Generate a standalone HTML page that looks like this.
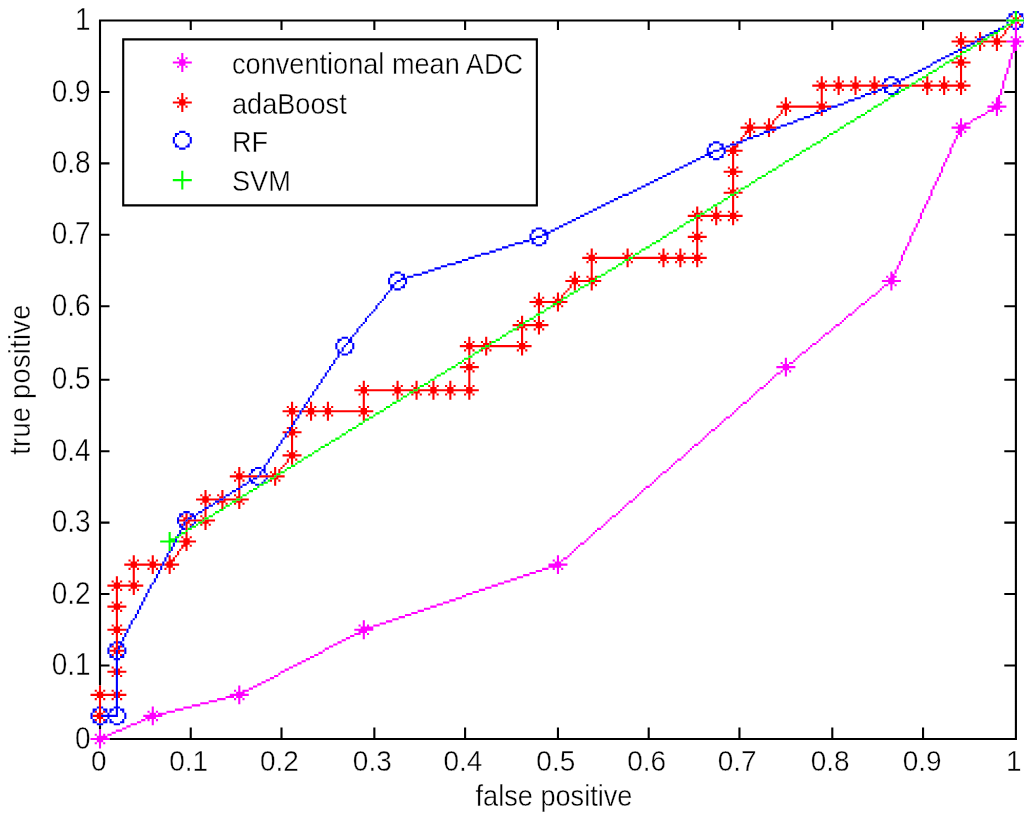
<!DOCTYPE html>
<html><head><meta charset="utf-8"><title>ROC</title>
<style>html,body{margin:0;padding:0;background:#fff}svg{display:block}</style></head>
<body><svg width="1024" height="823" viewBox="0 0 1024 823">
<rect width="1024" height="823" fill="#fff"/>
<g transform="translate(98.95 19.45) scale(2.11037 2.10088)">
<rect x="11" y="9" width="197" height="80" fill="#fff"/>
<path fill="#000" d="M0 261h1v1h-1zM434 261h1v1h-1zM0 88h1v1h-1zM11 88h197v1h-197zM434 88h1v1h-1zM43 339h1v1h-1zM86 339h1v1h-1zM130 339h1v1h-1zM173 339h1v1h-1zM217 339h1v1h-1zM260 339h1v1h-1zM303 339h1v1h-1zM347 339h1v1h-1zM390 339h1v1h-1zM434 339h1v1h-1zM0 0h430v1h-430zM0 337h1v1h-1zM43 337h1v1h-1zM86 337h1v1h-1zM130 337h1v1h-1zM173 337h1v1h-1zM217 337h1v1h-1zM260 337h1v1h-1zM303 337h1v1h-1zM347 337h1v1h-1zM390 337h1v1h-1zM434 337h1v1h-1zM0 5h1v1h-1zM5 342h430v1h-430zM0 117h1v1h-1zM434 117h1v1h-1zM0 14h1v1h-1zM11 14h1v1h-1zM207 14h1v1h-1zM0 270h1v1h-1zM434 270h1v1h-1zM43 341h1v1h-1zM86 341h1v1h-1zM130 341h1v1h-1zM173 341h1v1h-1zM217 341h1v1h-1zM260 341h1v1h-1zM303 341h1v1h-1zM347 341h1v1h-1zM390 341h1v1h-1zM434 341h1v1h-1zM0 9h1v1h-1zM11 9h197v1h-197zM0 74h1v1h-1zM11 74h1v1h-1zM207 74h1v1h-1zM434 74h1v1h-1zM0 126h1v1h-1zM434 126h1v1h-1zM0 238h1v1h-1zM434 238h1v1h-1zM0 273h5v1h-5zM429 273h6v1h-6zM0 94h1v1h-1zM434 94h1v1h-1zM0 171h5v1h-5zM429 171h6v1h-6zM0 136h5v1h-5zM429 136h6v1h-6zM0 247h1v1h-1zM434 247h1v1h-1zM0 51h1v1h-1zM11 51h1v1h-1zM207 51h1v1h-1zM434 51h1v1h-1zM0 103h1v1h-1zM434 103h1v1h-1zM0 215h1v1h-1zM434 215h1v1h-1zM0 71h1v1h-1zM11 71h1v1h-1zM207 71h1v1h-1zM434 71h1v1h-1zM0 224h1v1h-1zM434 224h1v1h-1zM0 336h1v1h-1zM434 336h1v1h-1zM0 107h1v1h-1zM434 107h1v1h-1zM43 338h1v1h-1zM86 338h1v1h-1zM130 338h1v1h-1zM173 338h1v1h-1zM217 338h1v1h-1zM260 338h1v1h-1zM303 338h1v1h-1zM347 338h1v1h-1zM390 338h1v1h-1zM434 338h1v1h-1zM0 260h1v1h-1zM434 260h1v1h-1zM0 64h1v1h-1zM11 64h1v1h-1zM207 64h1v1h-1zM434 64h1v1h-1zM0 192h1v1h-1zM434 192h1v1h-1zM0 116h1v1h-1zM434 116h1v1h-1zM0 228h1v1h-1zM434 228h1v1h-1zM0 84h1v1h-1zM11 84h1v1h-1zM207 84h1v1h-1zM434 84h1v1h-1zM0 237h1v1h-1zM434 237h1v1h-1zM0 41h1v1h-1zM11 41h1v1h-1zM207 41h1v1h-1zM434 41h1v1h-1zM0 93h1v1h-1zM434 93h1v1h-1zM0 205h5v1h-5zM429 205h6v1h-6zM0 61h1v1h-1zM11 61h1v1h-1zM207 61h1v1h-1zM434 61h1v1h-1zM0 214h1v1h-1zM434 214h1v1h-1zM434 326h1v1h-1zM0 18h1v1h-1zM11 18h1v1h-1zM207 18h1v1h-1zM434 18h1v1h-1zM0 70h1v1h-1zM11 70h1v1h-1zM207 70h1v1h-1zM434 70h1v1h-1zM0 54h1v1h-1zM11 54h1v1h-1zM207 54h1v1h-1zM434 54h1v1h-1zM0 79h1v1h-1zM11 79h1v1h-1zM207 79h1v1h-1zM434 79h1v1h-1zM0 182h1v1h-1zM434 182h1v1h-1zM0 106h1v1h-1zM434 106h1v1h-1zM0 34h5v1h-5zM11 34h1v1h-1zM207 34h1v1h-1zM429 34h6v1h-6zM0 38h1v1h-1zM11 38h1v1h-1zM207 38h1v1h-1zM434 38h1v1h-1zM0 191h1v1h-1zM434 191h1v1h-1zM0 303h1v1h-1zM434 303h1v1h-1zM0 1h1v1h-1zM43 1h1v1h-1zM86 1h1v1h-1zM130 1h1v1h-1zM173 1h1v1h-1zM217 1h1v1h-1zM260 1h1v1h-1zM303 1h1v1h-1zM347 1h1v1h-1zM390 1h1v1h-1zM0 227h1v1h-1zM434 227h1v1h-1zM0 56h1v1h-1zM11 56h1v1h-1zM207 56h1v1h-1zM434 56h1v1h-1zM0 31h1v1h-1zM11 31h1v1h-1zM207 31h1v1h-1zM434 31h1v1h-1zM0 3h1v1h-1zM43 3h1v1h-1zM86 3h1v1h-1zM130 3h1v1h-1zM173 3h1v1h-1zM217 3h1v1h-1zM260 3h1v1h-1zM303 3h1v1h-1zM347 3h1v1h-1zM390 3h1v1h-1zM0 83h1v1h-1zM11 83h1v1h-1zM207 83h1v1h-1zM434 83h1v1h-1zM0 195h1v1h-1zM434 195h1v1h-1zM0 204h1v1h-1zM434 204h1v1h-1zM0 316h1v1h-1zM434 316h1v1h-1zM0 60h1v1h-1zM11 60h1v1h-1zM207 60h1v1h-1zM434 60h1v1h-1zM0 69h1v1h-1zM11 69h1v1h-1zM207 69h1v1h-1zM434 69h1v1h-1zM0 172h1v1h-1zM434 172h1v1h-1zM0 28h1v1h-1zM11 28h1v1h-1zM207 28h1v1h-1zM434 28h1v1h-1zM0 181h1v1h-1zM434 181h1v1h-1zM0 293h1v1h-1zM434 293h1v1h-1zM0 37h1v1h-1zM11 37h1v1h-1zM207 37h1v1h-1zM434 37h1v1h-1zM0 21h1v1h-1zM11 21h1v1h-1zM207 21h1v1h-1zM434 21h1v1h-1zM0 46h1v1h-1zM11 46h1v1h-1zM207 46h1v1h-1zM434 46h1v1h-1zM0 149h1v1h-1zM434 149h1v1h-1zM0 302h1v1h-1zM434 302h1v1h-1zM0 73h1v1h-1zM11 73h1v1h-1zM207 73h1v1h-1zM434 73h1v1h-1zM0 185h1v1h-1zM434 185h1v1h-1zM0 194h1v1h-1zM434 194h1v1h-1zM0 306h1v1h-1zM434 306h1v1h-1zM0 4h1v1h-1zM43 4h1v1h-1zM86 4h1v1h-1zM130 4h1v1h-1zM173 4h1v1h-1zM217 4h1v1h-1zM260 4h1v1h-1zM303 4h1v1h-1zM347 4h1v1h-1zM390 4h1v1h-1zM0 50h1v1h-1zM11 50h1v1h-1zM207 50h1v1h-1zM434 50h1v1h-1zM0 59h1v1h-1zM11 59h1v1h-1zM207 59h1v1h-1zM434 59h1v1h-1zM0 162h1v1h-1zM434 162h1v1h-1zM0 239h5v1h-5zM429 239h6v1h-6zM0 315h1v1h-1zM434 315h1v1h-1zM0 283h1v1h-1zM434 283h1v1h-1zM0 27h1v1h-1zM11 27h1v1h-1zM207 27h1v1h-1zM434 27h1v1h-1zM0 36h1v1h-1zM11 36h1v1h-1zM207 36h1v1h-1zM434 36h1v1h-1zM0 139h1v1h-1zM434 139h1v1h-1zM0 292h1v1h-1zM434 292h1v1h-1zM0 148h1v1h-1zM434 148h1v1h-1zM0 13h1v1h-1zM11 13h1v1h-1zM207 13h1v1h-1zM0 269h1v1h-1zM434 269h1v1h-1zM43 340h1v1h-1zM86 340h1v1h-1zM130 340h1v1h-1zM173 340h1v1h-1zM217 340h1v1h-1zM260 340h1v1h-1zM303 340h1v1h-1zM347 340h1v1h-1zM390 340h1v1h-1zM434 340h1v1h-1zM0 40h1v1h-1zM11 40h1v1h-1zM207 40h1v1h-1zM434 40h1v1h-1zM0 49h1v1h-1zM11 49h1v1h-1zM207 49h1v1h-1zM434 49h1v1h-1zM0 152h1v1h-1zM434 152h1v1h-1zM0 305h1v1h-1zM434 305h1v1h-1zM0 161h1v1h-1zM434 161h1v1h-1zM0 17h1v1h-1zM11 17h1v1h-1zM207 17h1v1h-1zM434 17h1v1h-1zM0 26h1v1h-1zM11 26h1v1h-1zM207 26h1v1h-1zM434 26h1v1h-1zM0 129h1v1h-1zM434 129h1v1h-1zM0 282h1v1h-1zM434 282h1v1h-1zM0 86h1v1h-1zM11 86h1v1h-1zM207 86h1v1h-1zM434 86h1v1h-1zM0 138h1v1h-1zM434 138h1v1h-1zM0 250h1v1h-1zM434 250h1v1h-1zM0 102h5v1h-5zM429 102h6v1h-6zM0 259h1v1h-1zM434 259h1v1h-1zM0 63h1v1h-1zM11 63h1v1h-1zM207 63h1v1h-1zM434 63h1v1h-1zM0 115h1v1h-1zM434 115h1v1h-1zM0 151h1v1h-1zM434 151h1v1h-1zM0 236h1v1h-1zM434 236h1v1h-1zM0 7h1v1h-1zM0 16h1v1h-1zM11 16h1v1h-1zM207 16h1v1h-1zM434 16h1v1h-1zM0 119h1v1h-1zM434 119h1v1h-1zM0 272h1v1h-1zM434 272h1v1h-1zM0 76h1v1h-1zM11 76h1v1h-1zM207 76h1v1h-1zM434 76h1v1h-1zM0 128h1v1h-1zM434 128h1v1h-1zM0 240h1v1h-1zM434 240h1v1h-1zM0 96h1v1h-1zM434 96h1v1h-1zM0 249h1v1h-1zM434 249h1v1h-1zM0 53h1v1h-1zM11 53h1v1h-1zM207 53h1v1h-1zM434 53h1v1h-1zM0 105h1v1h-1zM434 105h1v1h-1zM0 217h1v1h-1zM434 217h1v1h-1zM0 226h1v1h-1zM434 226h1v1h-1zM0 30h1v1h-1zM11 30h1v1h-1zM207 30h1v1h-1zM434 30h1v1h-1zM0 2h1v1h-1zM43 2h1v1h-1zM86 2h1v1h-1zM130 2h1v1h-1zM173 2h1v1h-1zM217 2h1v1h-1zM260 2h1v1h-1zM303 2h1v1h-1zM347 2h1v1h-1zM390 2h1v1h-1zM0 82h1v1h-1zM11 82h1v1h-1zM207 82h1v1h-1zM434 82h1v1h-1zM0 66h1v1h-1zM11 66h1v1h-1zM207 66h1v1h-1zM434 66h1v1h-1zM0 118h1v1h-1zM434 118h1v1h-1zM0 230h1v1h-1zM434 230h1v1h-1zM0 307h5v1h-5zM429 307h6v1h-6zM0 43h1v1h-1zM11 43h1v1h-1zM207 43h1v1h-1zM434 43h1v1h-1zM0 95h1v1h-1zM434 95h1v1h-1zM0 207h1v1h-1zM434 207h1v1h-1zM0 216h1v1h-1zM434 216h1v1h-1zM434 328h1v1h-1zM0 20h1v1h-1zM11 20h1v1h-1zM207 20h1v1h-1zM434 20h1v1h-1zM0 72h1v1h-1zM11 72h1v1h-1zM207 72h1v1h-1zM434 72h1v1h-1zM0 81h1v1h-1zM11 81h1v1h-1zM207 81h1v1h-1zM434 81h1v1h-1zM0 184h1v1h-1zM434 184h1v1h-1zM0 193h1v1h-1zM434 193h1v1h-1zM0 33h1v1h-1zM11 33h1v1h-1zM207 33h1v1h-1zM434 33h1v1h-1zM0 58h1v1h-1zM11 58h1v1h-1zM207 58h1v1h-1zM434 58h1v1h-1zM0 314h1v1h-1zM434 314h1v1h-1zM0 85h1v1h-1zM11 85h1v1h-1zM207 85h1v1h-1zM434 85h1v1h-1zM0 197h1v1h-1zM434 197h1v1h-1zM0 206h1v1h-1zM434 206h1v1h-1zM434 318h1v1h-1zM0 10h1v1h-1zM11 10h1v1h-1zM207 10h1v1h-1zM0 62h1v1h-1zM11 62h1v1h-1zM207 62h1v1h-1zM434 62h1v1h-1zM0 174h1v1h-1zM434 174h1v1h-1zM0 183h1v1h-1zM434 183h1v1h-1zM0 295h1v1h-1zM434 295h1v1h-1zM0 39h1v1h-1zM11 39h1v1h-1zM207 39h1v1h-1zM434 39h1v1h-1zM0 48h1v1h-1zM11 48h1v1h-1zM207 48h1v1h-1zM434 48h1v1h-1zM0 304h1v1h-1zM434 304h1v1h-1zM0 160h1v1h-1zM434 160h1v1h-1zM0 196h1v1h-1zM434 196h1v1h-1zM0 25h1v1h-1zM11 25h1v1h-1zM207 25h1v1h-1zM434 25h1v1h-1zM0 281h1v1h-1zM434 281h1v1h-1zM0 52h1v1h-1zM11 52h1v1h-1zM207 52h1v1h-1zM434 52h1v1h-1zM0 164h1v1h-1zM434 164h1v1h-1zM0 173h1v1h-1zM434 173h1v1h-1zM0 285h1v1h-1zM434 285h1v1h-1zM0 29h1v1h-1zM11 29h1v1h-1zM207 29h1v1h-1zM434 29h1v1h-1zM0 141h1v1h-1zM434 141h1v1h-1zM0 294h1v1h-1zM434 294h1v1h-1zM0 150h1v1h-1zM434 150h1v1h-1zM0 262h1v1h-1zM434 262h1v1h-1zM0 6h1v1h-1zM0 15h1v1h-1zM11 15h1v1h-1zM207 15h1v1h-1zM434 15h1v1h-1zM0 271h1v1h-1zM434 271h1v1h-1zM0 42h1v1h-1zM11 42h1v1h-1zM207 42h1v1h-1zM434 42h1v1h-1zM0 75h1v1h-1zM11 75h1v1h-1zM207 75h1v1h-1zM434 75h1v1h-1zM0 127h1v1h-1zM434 127h1v1h-1zM0 163h1v1h-1zM434 163h1v1h-1zM0 275h1v1h-1zM434 275h1v1h-1zM0 19h1v1h-1zM11 19h1v1h-1zM207 19h1v1h-1zM434 19h1v1h-1zM0 131h1v1h-1zM434 131h1v1h-1zM0 284h1v1h-1zM434 284h1v1h-1zM0 140h1v1h-1zM434 140h1v1h-1zM0 252h1v1h-1zM434 252h1v1h-1zM0 108h1v1h-1zM434 108h1v1h-1zM0 65h1v1h-1zM11 65h1v1h-1zM207 65h1v1h-1zM434 65h1v1h-1zM0 229h1v1h-1zM434 229h1v1h-1zM0 78h1v1h-1zM11 78h1v1h-1zM207 78h1v1h-1zM434 78h1v1h-1zM0 130h1v1h-1zM434 130h1v1h-1zM0 242h1v1h-1zM434 242h1v1h-1zM434 327h1v1h-1zM0 98h1v1h-1zM434 98h1v1h-1zM0 251h1v1h-1zM434 251h1v1h-1zM0 55h1v1h-1zM11 55h1v1h-1zM207 55h1v1h-1zM434 55h1v1h-1zM0 219h1v1h-1zM434 219h1v1h-1zM0 32h1v1h-1zM11 32h1v1h-1zM207 32h1v1h-1zM434 32h1v1h-1zM434 317h1v1h-1zM0 241h1v1h-1zM434 241h1v1h-1zM0 45h1v1h-1zM11 45h1v1h-1zM207 45h1v1h-1zM434 45h1v1h-1zM0 97h1v1h-1zM434 97h1v1h-1zM0 209h1v1h-1zM434 209h1v1h-1zM0 218h1v1h-1zM434 218h1v1h-1zM434 330h1v1h-1zM0 22h1v1h-1zM11 22h1v1h-1zM207 22h1v1h-1zM434 22h1v1h-1zM0 186h1v1h-1zM434 186h1v1h-1zM0 35h1v1h-1zM11 35h1v1h-1zM207 35h1v1h-1zM434 35h1v1h-1zM0 87h1v1h-1zM11 87h1v1h-1zM207 87h1v1h-1zM434 87h1v1h-1zM0 208h1v1h-1zM434 208h1v1h-1zM434 320h1v1h-1zM0 12h1v1h-1zM11 12h1v1h-1zM207 12h1v1h-1zM0 176h1v1h-1zM434 176h1v1h-1zM0 297h1v1h-1zM434 297h1v1h-1zM0 153h1v1h-1zM434 153h1v1h-1zM0 274h1v1h-1zM434 274h1v1h-1zM0 175h1v1h-1zM434 175h1v1h-1zM0 287h1v1h-1zM434 287h1v1h-1zM0 143h1v1h-1zM434 143h1v1h-1zM0 296h1v1h-1zM434 296h1v1h-1zM0 264h1v1h-1zM434 264h1v1h-1zM0 8h1v1h-1zM0 120h1v1h-1zM434 120h1v1h-1zM0 77h1v1h-1zM11 77h1v1h-1zM207 77h1v1h-1zM434 77h1v1h-1zM0 133h1v1h-1zM434 133h1v1h-1zM0 286h1v1h-1zM434 286h1v1h-1zM0 142h1v1h-1zM434 142h1v1h-1zM0 254h1v1h-1zM434 254h1v1h-1zM0 110h1v1h-1zM434 110h1v1h-1zM0 263h1v1h-1zM434 263h1v1h-1zM0 67h1v1h-1zM11 67h1v1h-1zM207 67h1v1h-1zM434 67h1v1h-1zM0 231h1v1h-1zM434 231h1v1h-1zM0 44h1v1h-1zM11 44h1v1h-1zM207 44h1v1h-1zM434 44h1v1h-1zM0 80h1v1h-1zM11 80h1v1h-1zM207 80h1v1h-1zM434 80h1v1h-1zM0 132h1v1h-1zM434 132h1v1h-1zM434 329h1v1h-1zM0 100h1v1h-1zM434 100h1v1h-1zM0 253h1v1h-1zM434 253h1v1h-1zM0 57h1v1h-1zM11 57h1v1h-1zM207 57h1v1h-1zM434 57h1v1h-1zM0 109h1v1h-1zM434 109h1v1h-1zM0 221h1v1h-1zM434 221h1v1h-1zM0 198h1v1h-1zM434 198h1v1h-1zM434 319h1v1h-1zM0 11h1v1h-1zM11 11h1v1h-1zM207 11h1v1h-1zM0 47h1v1h-1zM11 47h1v1h-1zM207 47h1v1h-1zM434 47h1v1h-1zM0 99h1v1h-1zM434 99h1v1h-1zM0 220h1v1h-1zM434 220h1v1h-1zM434 332h1v1h-1zM0 24h1v1h-1zM11 24h1v1h-1zM207 24h1v1h-1zM434 24h1v1h-1zM0 188h1v1h-1zM434 188h1v1h-1zM0 309h1v1h-1zM434 309h1v1h-1zM0 165h1v1h-1zM434 165h1v1h-1zM0 178h1v1h-1zM434 178h1v1h-1zM0 187h1v1h-1zM434 187h1v1h-1zM0 299h1v1h-1zM434 299h1v1h-1zM0 155h1v1h-1zM434 155h1v1h-1zM0 308h1v1h-1zM434 308h1v1h-1zM0 276h1v1h-1zM434 276h1v1h-1zM0 177h1v1h-1zM434 177h1v1h-1zM0 145h1v1h-1zM434 145h1v1h-1zM0 298h1v1h-1zM434 298h1v1h-1zM0 154h1v1h-1zM434 154h1v1h-1zM0 266h1v1h-1zM434 266h1v1h-1zM0 122h1v1h-1zM434 122h1v1h-1zM0 243h1v1h-1zM434 243h1v1h-1zM0 23h1v1h-1zM11 23h1v1h-1zM207 23h1v1h-1zM434 23h1v1h-1zM0 68h5v1h-5zM11 68h1v1h-1zM207 68h1v1h-1zM429 68h6v1h-6zM0 144h1v1h-1zM434 144h1v1h-1zM0 112h1v1h-1zM434 112h1v1h-1zM0 265h1v1h-1zM434 265h1v1h-1zM0 121h1v1h-1zM434 121h1v1h-1zM0 233h1v1h-1zM434 233h1v1h-1zM0 89h1v1h-1zM434 89h1v1h-1zM0 210h1v1h-1zM434 210h1v1h-1zM434 331h1v1h-1zM0 111h1v1h-1zM434 111h1v1h-1zM0 223h1v1h-1zM434 223h1v1h-1zM0 232h1v1h-1zM434 232h1v1h-1zM0 200h1v1h-1zM434 200h1v1h-1zM434 321h1v1h-1zM0 222h1v1h-1zM434 222h1v1h-1zM0 190h1v1h-1zM434 190h1v1h-1zM0 199h1v1h-1zM434 199h1v1h-1zM0 311h1v1h-1zM434 311h1v1h-1zM0 167h1v1h-1zM434 167h1v1h-1zM0 288h1v1h-1zM434 288h1v1h-1zM0 189h1v1h-1zM434 189h1v1h-1zM0 157h1v1h-1zM434 157h1v1h-1zM0 310h1v1h-1zM434 310h1v1h-1zM0 166h1v1h-1zM434 166h1v1h-1zM0 278h1v1h-1zM434 278h1v1h-1zM0 134h1v1h-1zM434 134h1v1h-1zM0 255h1v1h-1zM434 255h1v1h-1zM0 156h1v1h-1zM434 156h1v1h-1zM0 268h1v1h-1zM434 268h1v1h-1zM0 124h1v1h-1zM434 124h1v1h-1zM0 277h1v1h-1zM434 277h1v1h-1zM0 245h1v1h-1zM434 245h1v1h-1zM0 101h1v1h-1zM434 101h1v1h-1zM0 114h1v1h-1zM434 114h1v1h-1zM0 267h1v1h-1zM434 267h1v1h-1zM0 123h1v1h-1zM434 123h1v1h-1zM0 235h1v1h-1zM434 235h1v1h-1zM0 91h1v1h-1zM434 91h1v1h-1zM0 244h1v1h-1zM434 244h1v1h-1zM0 212h1v1h-1zM434 212h1v1h-1zM434 333h1v1h-1zM0 113h1v1h-1zM434 113h1v1h-1zM0 234h1v1h-1zM434 234h1v1h-1zM0 90h1v1h-1zM434 90h1v1h-1zM0 202h1v1h-1zM434 202h1v1h-1zM0 211h1v1h-1zM434 211h1v1h-1zM434 323h1v1h-1zM0 179h1v1h-1zM434 179h1v1h-1zM0 300h1v1h-1zM434 300h1v1h-1zM0 201h1v1h-1zM434 201h1v1h-1zM0 313h1v1h-1zM434 313h1v1h-1zM0 169h1v1h-1zM434 169h1v1h-1zM0 290h1v1h-1zM434 290h1v1h-1zM0 146h1v1h-1zM434 146h1v1h-1zM0 159h1v1h-1zM434 159h1v1h-1zM0 312h1v1h-1zM434 312h1v1h-1zM0 168h1v1h-1zM434 168h1v1h-1zM0 280h1v1h-1zM434 280h1v1h-1zM0 289h1v1h-1zM434 289h1v1h-1zM0 257h1v1h-1zM434 257h1v1h-1zM0 158h1v1h-1zM434 158h1v1h-1zM0 279h1v1h-1zM434 279h1v1h-1zM0 135h1v1h-1zM434 135h1v1h-1zM0 256h1v1h-1zM434 256h1v1h-1zM0 125h1v1h-1zM434 125h1v1h-1zM434 322h1v1h-1zM0 246h1v1h-1zM434 246h1v1h-1zM434 335h1v1h-1zM0 92h1v1h-1zM434 92h1v1h-1zM0 213h1v1h-1zM434 213h1v1h-1zM434 325h1v1h-1zM0 203h1v1h-1zM434 203h1v1h-1zM0 180h1v1h-1zM434 180h1v1h-1zM0 301h1v1h-1zM434 301h1v1h-1zM0 170h1v1h-1zM434 170h1v1h-1zM0 291h1v1h-1zM434 291h1v1h-1zM0 147h1v1h-1zM434 147h1v1h-1zM0 137h1v1h-1zM434 137h1v1h-1zM434 334h1v1h-1zM0 258h1v1h-1zM434 258h1v1h-1zM434 324h1v1h-1zM0 248h1v1h-1zM434 248h1v1h-1zM0 104h1v1h-1zM434 104h1v1h-1zM0 225h1v1h-1zM434 225h1v1h-1zM434 15h1v328h-1zM43 0h1v5h-1zM43 337h1v6h-1zM86 0h1v5h-1zM86 337h1v6h-1zM0 0h1v317h-1zM0 336h1v2h-1zM11 9h1v80h-1zM173 0h1v5h-1zM173 337h1v6h-1zM207 9h1v80h-1zM217 0h1v5h-1zM217 337h1v6h-1zM390 0h1v5h-1zM390 337h1v6h-1zM260 0h1v5h-1zM260 337h1v6h-1zM130 0h1v5h-1zM130 337h1v6h-1zM303 0h1v5h-1zM303 337h1v6h-1zM347 0h1v5h-1zM347 337h1v6h-1z"/>
<path fill="#f0f" d="M21 331h9v1h-9zM424 40h3v1h-3zM151 281h3v1h-3zM248 232h1v1h-1zM86 310h2v1h-2zM204 263h3v1h-3zM217 263h1v1h-1zM346 148h1v1h-1zM121 290h9v1h-9zM372 126h2v1h-2zM375 126h1v1h-1zM377 126h1v1h-1zM357 139h1v1h-1zM183 270h3v1h-3zM77 315h2v1h-2zM-4 342h9v1h-9zM271 212h1v1h-1zM421 41h9v1h-9zM371 124h9v1h-9zM416 46h2v1h-2zM325 162h1v1h-1zM329 162h1v1h-1zM125 287h1v1h-1zM133 287h3v1h-3zM318 171h1v1h-1zM404 51h9v1h-9zM274 209h2v1h-2zM375 121h2v1h-2zM166 276h3v1h-3zM388 95h1v1h-1zM217 256h1v1h-1zM220 256h2v1h-2zM104 301h2v1h-2zM321 168h2v1h-2zM325 168h1v1h-1zM400 69h1v1h-1zM189 268h3v1h-3zM66 318h1v1h-1zM71 318h2v1h-2zM109 298h2v1h-2zM321 165h9v1h-9zM96 305h2v1h-2zM139 285h3v1h-3zM24 330h3v1h-3zM28 330h4v1h-4zM320 169h1v1h-1zM325 169h1v1h-1zM393 84h1v1h-1zM251 229h2v1h-2zM15 335h3v1h-3zM25 335h1v1h-1zM380 114h1v1h-1zM405 58h1v1h-1zM302 185h1v1h-1zM428 32h1v1h-1zM430 10h9v1h-9zM213 259h9v1h-9zM255 226h1v1h-1zM195 266h3v1h-3zM305 182h2v1h-2zM407 50h4v1h-4zM201 264h3v1h-3zM123 291h4v1h-4zM374 125h3v1h-3zM145 283h3v1h-3zM39 16h1v1h-1zM432 16h1v1h-1zM66 317h1v1h-1zM73 317h2v1h-2zM119 293h2v1h-2zM125 293h1v1h-1zM60 322h4v1h-4zM65 322h3v1h-3zM235 243h1v1h-1zM23 329h1v1h-1zM25 329h1v1h-1zM27 329h1v1h-1zM32 329h4v1h-4zM408 48h1v1h-1zM413 48h1v1h-1zM324 164h3v1h-3zM293 193h1v1h-1zM282 202h2v1h-2zM-1 341h5v1h-5zM207 262h3v1h-3zM217 262h1v1h-1zM64 319h1v1h-1zM66 319h1v1h-1zM68 319h3v1h-3zM239 240h1v1h-1zM44 326h4v1h-4zM228 249h2v1h-2zM286 199h1v1h-1zM157 279h3v1h-3zM418 45h2v1h-2zM425 45h1v1h-1zM407 54h2v1h-2zM232 246h1v1h-1zM333 158h2v1h-2zM0 345h1v1h-1zM400 68h1v1h-1zM92 307h2v1h-2zM423 42h4v1h-4zM11 337h2v1h-2zM213 260h6v1h-6zM368 130h1v1h-1zM432 8h1v1h-1zM434 8h1v1h-1zM436 8h1v1h-1zM88 309h2v1h-2zM163 277h3v1h-3zM380 113h1v1h-1zM392 87h1v1h-1zM174 273h3v1h-3zM427 35h1v1h-1zM37 18h1v1h-1zM39 18h1v1h-1zM41 18h1v1h-1zM432 18h1v1h-1zM406 49h1v1h-1zM408 49h1v1h-1zM410 49h3v1h-3zM115 295h2v1h-2zM246 234h1v1h-1zM-2 340h1v1h-1zM0 340h1v1h-1zM2 340h1v1h-1zM4 340h2v1h-2zM169 275h3v1h-3zM370 128h1v1h-1zM375 128h1v1h-1zM433 11h3v1h-3zM22 332h5v1h-5zM344 149h2v1h-2zM379 116h1v1h-1zM62 321h9v1h-9zM404 60h1v1h-1zM180 271h3v1h-3zM323 163h1v1h-1zM325 163h1v1h-1zM327 163h2v1h-2zM432 12h3v1h-3zM436 12h1v1h-1zM38 21h3v1h-3zM431 21h1v1h-1zM348 146h1v1h-1zM408 47h1v1h-1zM414 47h2v1h-2zM123 288h1v1h-1zM125 288h1v1h-1zM127 288h1v1h-1zM130 288h3v1h-3zM337 155h1v1h-1zM407 52h3v1h-3zM423 39h1v1h-1zM425 39h3v1h-3zM384 105h1v1h-1zM215 257h1v1h-1zM217 257h1v1h-1zM219 257h1v1h-1zM406 53h3v1h-3zM410 53h1v1h-1zM277 207h1v1h-1zM374 123h3v1h-3zM-2 344h1v1h-1zM0 344h1v1h-1zM2 344h1v1h-1zM192 267h3v1h-3zM266 216h1v1h-1zM52 324h4v1h-4zM66 324h1v1h-1zM387 97h1v1h-1zM223 254h1v1h-1zM399 71h1v1h-1zM85 311h1v1h-1zM324 166h3v1h-3zM313 175h2v1h-2zM142 284h3v1h-3zM270 213h1v1h-1zM65 320h4v1h-4zM259 222h2v1h-2zM323 167h1v1h-1zM325 167h1v1h-1zM327 167h1v1h-1zM380 112h1v1h-1zM317 172h1v1h-1zM392 86h1v1h-1zM111 297h2v1h-2zM427 34h1v1h-1zM198 265h3v1h-3zM421 43h3v1h-3zM425 43h1v1h-1zM427 43h1v1h-1zM25 327h1v1h-1zM40 327h4v1h-4zM210 261h3v1h-3zM215 261h1v1h-1zM217 261h1v1h-1zM219 261h1v1h-1zM18 334h2v1h-2zM25 334h1v1h-1zM37 22h1v1h-1zM39 22h1v1h-1zM41 22h1v1h-1zM431 22h1v1h-1zM355 140h2v1h-2zM148 282h3v1h-3zM0 339h1v1h-1zM6 339h2v1h-2zM371 127h1v1h-1zM375 127h1v1h-1zM117 294h2v1h-2zM125 294h1v1h-1zM172 274h2v1h-2zM359 137h1v1h-1zM425 38h2v1h-2zM250 230h1v1h-1zM379 115h1v1h-1zM391 89h1v1h-1zM403 63h1v1h-1zM154 280h3v1h-3zM48 325h4v1h-4zM66 325h1v1h-1zM230 248h1v1h-1zM39 24h1v1h-1zM430 24h1v1h-1zM121 292h3v1h-3zM125 292h1v1h-1zM127 292h1v1h-1zM186 269h3v1h-3zM338 154h2v1h-2zM20 333h2v1h-2zM23 333h1v1h-1zM25 333h1v1h-1zM27 333h1v1h-1zM0 338h1v1h-1zM8 338h3v1h-3zM94 306h2v1h-2zM125 286h1v1h-1zM136 286h3v1h-3zM373 122h1v1h-1zM375 122h3v1h-3zM-1 343h3v1h-3zM378 118h1v1h-1zM399 70h1v1h-1zM160 278h3v1h-3zM56 323h4v1h-4zM64 323h1v1h-1zM66 323h1v1h-1zM68 323h1v1h-1zM281 203h1v1h-1zM25 328h1v1h-1zM36 328h4v1h-4zM304 183h1v1h-1zM261 221h1v1h-1zM38 19h3v1h-3zM431 19h1v1h-1zM308 180h1v1h-1zM297 189h2v1h-2zM113 296h2v1h-2zM363 134h1v1h-1zM386 99h1v1h-1zM254 227h1v1h-1zM398 73h1v1h-1zM433 14h2v1h-2zM425 37h2v1h-2zM295 191h1v1h-1zM35 20h9v1h-9zM431 20h1v1h-1zM403 62h1v1h-1zM349 145h2v1h-2zM430 25h1v1h-1zM241 238h1v1h-1zM177 272h3v1h-3zM39 23h1v1h-1zM430 23h1v1h-1zM385 102h1v1h-1zM90 308h2v1h-2zM288 197h1v1h-1zM234 244h1v1h-1zM285 200h1v1h-1zM433 9h3v1h-3zM378 117h1v1h-1zM216 258h3v1h-3zM390 91h1v1h-1zM402 65h1v1h-1zM319 170h1v1h-1zM106 300h1v1h-1zM299 188h1v1h-1zM434 4h1v1h-1zM433 13h2v1h-2zM245 235h1v1h-1zM124 289h6v1h-6zM292 194h1v1h-1zM238 241h1v1h-1zM397 76h1v1h-1zM429 28h1v1h-1zM385 101h1v1h-1zM83 312h2v1h-2zM279 205h1v1h-1zM225 252h1v1h-1zM375 120h1v1h-1zM377 120h1v1h-1zM272 211h1v1h-1zM405 57h1v1h-1zM428 31h1v1h-1zM420 44h1v1h-1zM425 44h1v1h-1zM102 302h2v1h-2zM361 135h2v1h-2zM310 178h1v1h-1zM434 3h1v1h-1zM365 132h1v1h-1zM256 225h1v1h-1zM354 141h1v1h-1zM303 184h1v1h-1zM369 129h1v1h-1zM397 75h1v1h-1zM79 314h2v1h-2zM429 27h1v1h-1zM352 143h1v1h-1zM243 236h2v1h-2zM341 152h1v1h-1zM325 161h1v1h-1zM330 161h1v1h-1zM433 15h1v1h-1zM276 208h1v1h-1zM236 242h2v1h-2zM389 94h1v1h-1zM377 119h1v1h-1zM428 30h1v1h-1zM98 304h2v1h-2zM263 219h1v1h-1zM107 299h2v1h-2zM404 59h1v1h-1zM290 195h2v1h-2zM294 192h1v1h-1zM384 104h1v1h-1zM396 78h1v1h-1zM240 239h1v1h-1zM81 313h2v1h-2zM287 198h1v1h-1zM401 67h1v1h-1zM227 250h1v1h-1zM13 336h2v1h-2zM383 107h1v1h-1zM428 29h1v1h-1zM427 33h1v1h-1zM388 96h1v1h-1zM301 186h1v1h-1zM366 131h2v1h-2zM247 233h1v1h-1zM391 88h1v1h-1zM360 136h1v1h-1zM384 103h1v1h-1zM396 77h1v1h-1zM231 247h1v1h-1zM332 159h1v1h-1zM39 17h1v1h-1zM432 17h1v1h-1zM278 206h1v1h-1zM336 156h1v1h-1zM100 303h2v1h-2zM383 106h1v1h-1zM395 80h1v1h-1zM340 153h1v1h-1zM265 217h1v1h-1zM217 255h1v1h-1zM222 255h1v1h-1zM406 55h1v1h-1zM408 55h1v1h-1zM312 176h1v1h-1zM0 346h1v1h-1zM269 214h1v1h-1zM258 223h1v1h-1zM426 36h1v1h-1zM403 61h1v1h-1zM262 220h1v1h-1zM343 150h1v1h-1zM390 90h1v1h-1zM289 196h1v1h-1zM402 64h1v1h-1zM395 79h1v1h-1zM382 109h1v1h-1zM316 173h1v1h-1zM394 83h1v1h-1zM309 179h1v1h-1zM387 98h1v1h-1zM399 72h1v1h-1zM358 138h1v1h-1zM249 231h1v1h-1zM347 147h1v1h-1zM307 181h1v1h-1zM296 190h1v1h-1zM253 228h1v1h-1zM351 144h1v1h-1zM242 237h1v1h-1zM75 316h2v1h-2zM300 187h1v1h-1zM434 7h1v1h-1zM382 108h1v1h-1zM394 82h1v1h-1zM273 210h1v1h-1zM406 56h1v1h-1zM331 160h1v1h-1zM434 2h1v1h-1zM381 111h1v1h-1zM429 26h1v1h-1zM386 100h1v1h-1zM233 245h1v1h-1zM398 74h1v1h-1zM434 6h1v1h-1zM389 93h1v1h-1zM280 204h1v1h-1zM226 251h1v1h-1zM284 201h1v1h-1zM335 157h1v1h-1zM394 81h1v1h-1zM267 215h2v1h-2zM224 253h1v1h-1zM264 218h1v1h-1zM434 1h1v1h-1zM311 177h1v1h-1zM393 85h1v1h-1zM257 224h1v1h-1zM381 110h1v1h-1zM315 174h1v1h-1zM364 133h1v1h-1zM353 142h1v1h-1zM342 151h1v1h-1zM389 92h1v1h-1zM434 5h1v1h-1zM401 66h1v1h-1zM25 327h1v9h-1zM424 40h1v3h-1zM217 255h1v9h-1zM129 289h1v2h-1zM377 119h1v2h-1zM1 341h1v3h-1zM425 37h1v9h-1zM409 50h1v3h-1zM376 121h1v5h-1zM388 95h1v2h-1zM400 68h1v2h-1zM66 317h1v9h-1zM326 164h1v3h-1zM24 330h1v3h-1zM325 161h1v9h-1zM393 84h1v2h-1zM380 112h1v3h-1zM405 57h1v2h-1zM428 29h1v4h-1zM408 47h1v9h-1zM124 289h1v3h-1zM432 16h1v3h-1zM28 330h1v2h-1zM0 338h1v9h-1zM423 41h1v3h-1zM215 259h1v3h-1zM392 86h1v2h-1zM427 33h1v3h-1zM375 120h1v9h-1zM435 9h1v3h-1zM23 331h1v3h-1zM404 59h1v2h-1zM379 115h1v2h-1zM40 19h1v3h-1zM407 50h1v5h-1zM384 103h1v3h-1zM127 288h1v3h-1zM387 97h1v2h-1zM399 70h1v3h-1zM324 164h1v3h-1zM65 320h1v3h-1zM123 290h1v3h-1zM431 19h1v4h-1zM426 36h1v7h-1zM391 88h1v2h-1zM403 61h1v3h-1zM68 319h1v3h-1zM26 330h1v3h-1zM39 16h1v9h-1zM378 117h1v2h-1zM218 258h1v3h-1zM374 123h1v3h-1zM386 99h1v2h-1zM398 73h1v2h-1zM434 1h1v14h-1zM430 23h1v3h-1zM125 286h1v9h-1zM385 101h1v2h-1zM410 49h1v3h-1zM390 90h1v2h-1zM2 340h1v3h-1zM402 64h1v2h-1zM63 321h1v2h-1zM406 55h1v2h-1zM433 9h1v7h-1zM397 75h1v2h-1zM429 26h1v3h-1zM213 259h1v2h-1zM214 259h1v2h-1zM38 19h1v3h-1zM67 320h1v3h-1zM29 330h1v2h-1zM-1 341h1v3h-1zM389 92h1v3h-1zM216 258h1v3h-1zM396 77h1v2h-1zM128 289h1v2h-1zM401 66h1v2h-1zM383 106h1v2h-1zM62 321h1v2h-1zM395 79h1v2h-1zM126 289h1v3h-1zM3 341h1v2h-1zM382 108h1v2h-1zM394 81h1v3h-1zM22 331h1v2h-1zM381 110h1v2h-1z"/>
<path fill="#f00" d="M124 177h3v1h-3zM140 177h3v1h-3zM149 177h3v1h-3zM157 177h3v1h-3zM165 177h3v1h-3zM174 177h3v1h-3zM171 155h12v1h-12zM185 155h20v1h-20zM41 235h1v1h-1zM50 235h1v1h-1zM87 196h2v1h-2zM90 196h6v1h-6zM196 145h3v1h-3zM201 145h12v1h-12zM224 123h3v1h-3zM232 123h3v1h-3zM406 18h1v1h-1zM408 18h1v1h-1zM410 18h1v1h-1zM8 274h1v1h-1zM87 186h8v1h-8zM96 186h34v1h-34zM64 215h1v1h-1zM66 215h1v1h-1zM68 215h1v1h-1zM81 215h1v1h-1zM83 215h1v1h-1zM85 215h1v1h-1zM4 279h9v1h-9zM279 103h9v1h-9zM304 51h17v1h-17zM89 198h1v1h-1zM91 198h1v1h-1zM93 198h1v1h-1zM282 104h3v1h-3zM-2 319h1v1h-1zM0 319h1v1h-1zM2 319h1v1h-1zM6 319h1v1h-1zM10 319h1v1h-1zM38 238h3v1h-3zM42 238h7v1h-7zM50 238h5v1h-5zM173 167h1v1h-1zM175 167h1v1h-1zM177 167h1v1h-1zM123 174h1v1h-1zM125 174h1v1h-1zM127 174h1v1h-1zM139 174h1v1h-1zM141 174h1v1h-1zM143 174h1v1h-1zM148 174h1v1h-1zM150 174h1v1h-1zM156 174h1v1h-1zM158 174h1v1h-1zM160 174h1v1h-1zM164 174h1v1h-1zM166 174h1v1h-1zM168 174h1v1h-1zM173 174h1v1h-1zM175 174h1v1h-1zM177 174h1v1h-1zM338 31h36v1h-36zM376 31h8v1h-8zM385 31h28v1h-28zM407 9h3v1h-3zM418 9h1v1h-1zM424 9h3v1h-3zM12 259h18v1h-18zM31 259h7v1h-7zM283 94h2v1h-2zM291 94h3v1h-3zM299 94h3v1h-3zM174 156h3v1h-3zM183 156h2v1h-2zM199 156h3v1h-3zM229 113h22v1h-22zM253 113h35v1h-35zM91 189h1v1h-1zM100 189h1v1h-1zM108 189h1v1h-1zM125 189h1v1h-1zM89 209h1v1h-1zM91 209h1v1h-1zM93 209h1v1h-1zM121 176h28v1h-28zM151 176h29v1h-29zM-4 321h12v1h-12zM9 321h4v1h-4zM39 43h1v1h-1zM323 43h1v1h-1zM325 43h1v1h-1zM327 43h1v1h-1zM340 43h1v1h-1zM206 132h1v1h-1zM208 132h1v1h-1zM210 132h1v1h-1zM215 132h1v1h-1zM217 132h1v1h-1zM219 132h1v1h-1zM-1 322h3v1h-3zM7 322h1v1h-1zM9 322h1v1h-1zM91 190h1v1h-1zM100 190h1v1h-1zM108 190h1v1h-1zM125 190h1v1h-1zM302 59h1v1h-1zM207 133h3v1h-3zM216 133h3v1h-3zM49 229h3v1h-3zM57 229h3v1h-3zM65 229h3v1h-3zM50 225h1v1h-1zM58 225h1v1h-1zM66 225h1v1h-1zM281 91h1v1h-1zM283 91h1v1h-1zM285 91h1v1h-1zM290 91h1v1h-1zM292 91h1v1h-1zM294 91h1v1h-1zM298 91h1v1h-1zM300 91h1v1h-1zM302 91h1v1h-1zM-1 332h3v1h-3zM296 72h9v1h-9zM232 114h3v1h-3zM251 114h1v1h-1zM266 114h3v1h-3zM274 114h3v1h-3zM282 114h3v1h-3zM7 309h1v1h-1zM9 309h1v1h-1zM406 8h1v1h-1zM408 8h1v1h-1zM410 8h1v1h-1zM415 8h1v1h-1zM417 8h1v1h-1zM423 8h1v1h-1zM425 8h1v1h-1zM427 8h1v1h-1zM340 33h1v1h-1zM342 33h1v1h-1zM344 33h1v1h-1zM348 33h1v1h-1zM350 33h1v1h-1zM352 33h1v1h-1zM356 33h1v1h-1zM358 33h1v1h-1zM360 33h1v1h-1zM365 33h1v1h-1zM367 33h1v1h-1zM390 33h1v1h-1zM392 33h1v1h-1zM394 33h1v1h-1zM398 33h1v1h-1zM400 33h1v1h-1zM402 33h1v1h-1zM406 33h1v1h-1zM408 33h1v1h-1zM410 33h1v1h-1zM14 257h1v1h-1zM16 257h1v1h-1zM18 257h1v1h-1zM23 257h1v1h-1zM25 257h1v1h-1zM27 257h1v1h-1zM33 257h3v1h-3zM223 126h1v1h-1zM225 126h1v1h-1zM227 126h1v1h-1zM233 126h1v1h-1zM235 126h1v1h-1zM223 122h1v1h-1zM225 122h1v1h-1zM227 122h1v1h-1zM231 122h1v1h-1zM233 122h1v1h-1zM235 122h1v1h-1zM279 93h4v1h-4zM285 93h20v1h-20zM433 -1h1v1h-1zM435 -1h1v1h-1zM89 188h1v1h-1zM91 188h1v1h-1zM93 188h1v1h-1zM98 188h1v1h-1zM100 188h1v1h-1zM102 188h1v1h-1zM106 188h1v1h-1zM108 188h1v1h-1zM110 188h1v1h-1zM123 188h1v1h-1zM125 188h1v1h-1zM127 188h1v1h-1zM307 52h3v1h-3zM316 52h2v1h-2zM432 2h1v1h-1zM436 2h1v1h-1zM15 258h3v1h-3zM24 258h3v1h-3zM32 258h3v1h-3zM173 157h1v1h-1zM175 157h1v1h-1zM177 157h1v1h-1zM181 157h1v1h-1zM183 157h1v1h-1zM185 157h1v1h-1zM198 157h1v1h-1zM200 157h1v1h-1zM202 157h1v1h-1zM40 237h2v1h-2zM49 237h1v1h-1zM300 84h1v1h-1zM302 84h1v1h-1zM199 146h3v1h-3zM207 146h3v1h-3zM429 5h1v1h-1zM341 30h3v1h-3zM349 30h3v1h-3zM357 30h3v1h-3zM366 30h3v1h-3zM391 30h3v1h-3zM399 30h3v1h-3zM407 30h3v1h-3zM305 55h1v1h-1zM308 55h1v1h-1zM317 55h1v1h-1zM124 175h3v1h-3zM140 175h3v1h-3zM149 175h2v1h-2zM157 175h3v1h-3zM165 175h3v1h-3zM174 175h3v1h-3zM407 11h3v1h-3zM418 11h1v1h-1zM424 11h3v1h-3zM206 136h1v1h-1zM208 136h1v1h-1zM210 136h1v1h-1zM215 136h1v1h-1zM217 136h1v1h-1zM219 136h1v1h-1zM406 12h1v1h-1zM408 12h1v1h-1zM410 12h1v1h-1zM417 12h1v1h-1zM419 12h1v1h-1zM423 12h1v1h-1zM425 12h1v1h-1zM427 12h1v1h-1zM283 97h1v1h-1zM292 97h1v1h-1zM300 97h1v1h-1zM175 159h1v1h-1zM183 159h1v1h-1zM200 159h1v1h-1zM297 62h8v1h-8zM39 251h1v1h-1zM41 251h1v1h-1zM48 230h1v1h-1zM50 230h1v1h-1zM52 230h1v1h-1zM56 230h1v1h-1zM58 230h1v1h-1zM60 230h1v1h-1zM64 230h1v1h-1zM66 230h1v1h-1zM68 230h1v1h-1zM404 10h11v1h-11zM416 10h2v1h-2zM419 10h11v1h-11zM207 135h3v1h-3zM217 135h2v1h-2zM37 253h1v1h-1zM49 227h3v1h-3zM57 227h2v1h-2zM65 227h2v1h-2zM4 269h17v1h-17zM432 -2h1v1h-1zM436 -2h1v1h-1zM298 74h1v1h-1zM300 74h1v1h-1zM302 74h1v1h-1zM407 21h3v1h-3zM38 38h3v1h-3zM325 38h1v1h-1zM342 38h1v1h-1zM233 109h1v1h-1zM250 109h1v1h-1zM267 109h1v1h-1zM275 109h1v1h-1zM283 109h1v1h-1zM15 260h3v1h-3zM24 260h3v1h-3zM32 260h3v1h-3zM16 256h1v1h-1zM25 256h1v1h-1zM33 256h1v1h-1zM35 256h1v1h-1zM340 29h1v1h-1zM342 29h1v1h-1zM344 29h1v1h-1zM348 29h1v1h-1zM350 29h1v1h-1zM352 29h1v1h-1zM356 29h1v1h-1zM358 29h1v1h-1zM360 29h1v1h-1zM365 29h1v1h-1zM367 29h1v1h-1zM369 29h1v1h-1zM390 29h1v1h-1zM392 29h1v1h-1zM394 29h1v1h-1zM398 29h1v1h-1zM400 29h1v1h-1zM402 29h1v1h-1zM406 29h1v1h-1zM408 29h1v1h-1zM410 29h1v1h-1zM62 217h13v1h-13zM76 217h7v1h-7zM84 217h4v1h-4zM171 165h9v1h-9zM90 206h3v1h-3zM296 82h5v1h-5zM303 82h2v1h-2zM300 87h1v1h-1zM200 149h1v1h-1zM208 149h1v1h-1zM7 289h3v1h-3zM41 241h1v1h-1zM50 241h1v1h-1zM342 34h1v1h-1zM350 34h1v1h-1zM358 34h1v1h-1zM392 34h1v1h-1zM400 34h1v1h-1zM408 34h1v1h-1zM0 325h1v1h-1zM204 134h13v1h-13zM219 134h3v1h-3zM298 64h1v1h-1zM300 64h1v1h-1zM302 64h1v1h-1zM7 270h3v1h-3zM15 270h3v1h-3zM175 158h1v1h-1zM183 158h1v1h-1zM200 158h1v1h-1zM174 154h3v1h-3zM182 154h3v1h-3zM199 154h3v1h-3zM198 147h1v1h-1zM200 147h1v1h-1zM202 147h1v1h-1zM206 147h1v1h-1zM208 147h1v1h-1zM210 147h1v1h-1zM299 81h3v1h-3zM8 283h1v1h-1zM408 24h1v1h-1zM37 41h1v1h-1zM39 41h1v1h-1zM41 41h1v1h-1zM321 41h26v1h-26zM39 240h1v1h-1zM41 240h1v1h-1zM43 240h1v1h-1zM48 240h1v1h-1zM50 240h1v1h-1zM52 240h1v1h-1zM90 208h3v1h-3zM233 110h1v1h-1zM250 110h1v1h-1zM267 110h1v1h-1zM275 110h1v1h-1zM283 110h1v1h-1zM8 296h1v1h-1zM90 185h3v1h-3zM99 185h3v1h-3zM107 185h3v1h-3zM124 185h3v1h-3zM341 32h3v1h-3zM349 32h3v1h-3zM357 32h3v1h-3zM366 32h3v1h-3zM391 32h3v1h-3zM399 32h3v1h-3zM407 32h3v1h-3zM125 179h1v1h-1zM141 179h1v1h-1zM150 179h1v1h-1zM158 179h1v1h-1zM166 179h1v1h-1zM175 179h1v1h-1zM125 180h1v1h-1zM141 180h1v1h-1zM150 180h1v1h-1zM158 180h1v1h-1zM166 180h1v1h-1zM175 180h1v1h-1zM8 272h1v1h-1zM16 272h1v1h-1zM299 71h3v1h-3zM8 273h1v1h-1zM16 273h1v1h-1zM66 214h1v1h-1zM83 214h1v1h-1zM85 214h1v1h-1zM221 129h1v1h-1zM208 131h1v1h-1zM217 131h1v1h-1zM219 131h1v1h-1zM8 286h1v1h-1zM231 115h1v1h-1zM233 115h1v1h-1zM235 115h1v1h-1zM250 115h1v1h-1zM252 115h1v1h-1zM265 115h1v1h-1zM267 115h1v1h-1zM269 115h1v1h-1zM273 115h1v1h-1zM275 115h1v1h-1zM277 115h1v1h-1zM281 115h1v1h-1zM283 115h1v1h-1zM285 115h1v1h-1zM89 210h1v1h-1zM91 210h1v1h-1zM232 112h3v1h-3zM249 112h3v1h-3zM266 112h3v1h-3zM274 112h3v1h-3zM282 112h3v1h-3zM123 178h1v1h-1zM125 178h1v1h-1zM127 178h1v1h-1zM139 178h1v1h-1zM141 178h1v1h-1zM143 178h1v1h-1zM148 178h1v1h-1zM150 178h1v1h-1zM152 178h1v1h-1zM156 178h1v1h-1zM158 178h1v1h-1zM160 178h1v1h-1zM164 178h1v1h-1zM166 178h1v1h-1zM168 178h1v1h-1zM173 178h1v1h-1zM175 178h1v1h-1zM177 178h1v1h-1zM6 271h1v1h-1zM8 271h1v1h-1zM10 271h1v1h-1zM14 271h1v1h-1zM16 271h1v1h-1zM18 271h1v1h-1zM322 45h1v1h-1zM325 45h1v1h-1zM342 45h1v1h-1zM233 116h1v1h-1zM250 116h1v1h-1zM267 116h1v1h-1zM275 116h1v1h-1zM283 116h1v1h-1zM299 61h3v1h-3zM39 250h3v1h-3zM43 250h1v1h-1zM199 144h2v1h-2zM207 144h3v1h-3zM6 308h1v1h-1zM10 308h1v1h-1zM221 124h12v1h-12zM235 124h3v1h-3zM404 20h9v1h-9zM281 105h1v1h-1zM283 105h1v1h-1zM285 105h1v1h-1zM173 163h1v1h-1zM175 163h1v1h-1zM177 163h1v1h-1zM174 164h3v1h-3zM306 54h1v1h-1zM308 54h1v1h-1zM317 54h1v1h-1zM408 7h1v1h-1zM417 7h1v1h-1zM425 7h1v1h-1zM428 7h1v1h-1zM14 261h1v1h-1zM16 261h1v1h-1zM18 261h1v1h-1zM23 261h1v1h-1zM25 261h1v1h-1zM27 261h1v1h-1zM31 261h1v1h-1zM33 261h1v1h-1zM35 261h1v1h-1zM283 96h1v1h-1zM292 96h1v1h-1zM300 96h1v1h-1zM6 292h1v1h-1zM8 292h1v1h-1zM10 292h1v1h-1zM282 92h3v1h-3zM291 92h3v1h-3zM299 92h3v1h-3zM6 298h1v1h-1zM8 298h1v1h-1zM10 298h1v1h-1zM125 173h1v1h-1zM141 173h1v1h-1zM150 173h1v1h-1zM158 173h1v1h-1zM166 173h1v1h-1zM175 173h1v1h-1zM50 231h1v1h-1zM58 231h1v1h-1zM66 231h1v1h-1zM7 311h1v1h-1zM9 311h1v1h-1zM16 255h1v1h-1zM25 255h1v1h-1zM33 255h1v1h-1zM36 255h1v1h-1zM173 153h1v1h-1zM175 153h1v1h-1zM177 153h1v1h-1zM181 153h1v1h-1zM183 153h1v1h-1zM185 153h1v1h-1zM198 153h1v1h-1zM200 153h1v1h-1zM202 153h1v1h-1zM35 39h9v1h-9zM323 39h1v1h-1zM325 39h1v1h-1zM327 39h1v1h-1zM340 39h1v1h-1zM342 39h1v1h-1zM344 39h1v1h-1zM41 239h2v1h-2zM49 239h3v1h-3zM300 86h1v1h-1zM200 148h1v1h-1zM208 148h1v1h-1zM87 207h9v1h-9zM91 182h1v1h-1zM100 182h1v1h-1zM108 182h1v1h-1zM125 182h1v1h-1zM6 288h1v1h-1zM8 288h1v1h-1zM10 288h1v1h-1zM299 63h3v1h-3zM7 301h1v1h-1zM9 301h1v1h-1zM231 111h1v1h-1zM233 111h1v1h-1zM235 111h1v1h-1zM248 111h1v1h-1zM250 111h1v1h-1zM252 111h1v1h-1zM265 111h1v1h-1zM267 111h1v1h-1zM269 111h1v1h-1zM273 111h1v1h-1zM275 111h1v1h-1zM277 111h1v1h-1zM281 111h1v1h-1zM283 111h1v1h-1zM285 111h1v1h-1zM306 53h3v1h-3zM310 53h1v1h-1zM319 53h1v1h-1zM300 76h1v1h-1zM7 278h3v1h-3zM408 23h1v1h-1zM38 40h3v1h-3zM324 40h3v1h-3zM341 40h3v1h-3zM16 262h1v1h-1zM25 262h1v1h-1zM33 262h1v1h-1zM174 166h3v1h-3zM64 219h1v1h-1zM66 219h1v1h-1zM68 219h1v1h-1zM81 219h1v1h-1zM83 219h1v1h-1zM85 219h1v1h-1zM7 291h3v1h-3zM8 295h1v1h-1zM38 248h8v1h-8zM48 226h1v1h-1zM50 226h1v1h-1zM52 226h1v1h-1zM56 226h1v1h-1zM58 226h1v1h-1zM64 226h1v1h-1zM66 226h1v1h-1zM283 90h1v1h-1zM292 90h1v1h-1zM300 90h1v1h-1zM39 35h1v1h-1zM342 35h1v1h-1zM350 35h1v1h-1zM358 35h1v1h-1zM367 35h1v1h-1zM392 35h1v1h-1zM400 35h1v1h-1zM408 35h1v1h-1zM0 327h1v1h-1zM65 216h3v1h-3zM82 216h2v1h-2zM300 66h1v1h-1zM7 268h3v1h-3zM15 268h3v1h-3zM408 13h1v1h-1zM417 13h1v1h-1zM425 13h1v1h-1zM198 143h1v1h-1zM200 143h1v1h-1zM206 143h1v1h-1zM208 143h1v1h-1zM210 143h1v1h-1zM90 197h3v1h-3zM4 310h4v1h-4zM9 310h4v1h-4zM308 47h1v1h-1zM317 47h1v1h-1zM320 47h1v1h-1zM39 236h1v1h-1zM41 236h1v1h-1zM43 236h1v1h-1zM48 236h1v1h-1zM50 236h1v1h-1zM208 130h1v1h-1zM217 130h1v1h-1zM220 130h1v1h-1zM-1 320h3v1h-3zM7 320h1v1h-1zM9 320h1v1h-1zM8 285h1v1h-1zM4 290h9v1h-9zM0 317h1v1h-1zM175 169h1v1h-1zM89 184h1v1h-1zM91 184h1v1h-1zM93 184h1v1h-1zM98 184h1v1h-1zM100 184h1v1h-1zM102 184h1v1h-1zM106 184h1v1h-1zM108 184h1v1h-1zM110 184h1v1h-1zM123 184h1v1h-1zM125 184h1v1h-1zM127 184h1v1h-1zM283 95h1v1h-1zM285 95h1v1h-1zM290 95h1v1h-1zM292 95h1v1h-1zM294 95h1v1h-1zM298 95h1v1h-1zM300 95h1v1h-1zM302 95h1v1h-1zM323 44h1v1h-1zM325 44h1v1h-1zM342 44h1v1h-1zM90 187h3v1h-3zM99 187h3v1h-3zM107 187h3v1h-3zM124 187h3v1h-3zM125 181h1v1h-1zM222 128h1v1h-1zM225 128h1v1h-1zM233 128h1v1h-1zM299 73h3v1h-3zM8 275h1v1h-1zM283 106h1v1h-1zM-2 323h1v1h-1zM0 323h1v1h-1zM2 323h1v1h-1zM6 323h1v1h-1zM10 323h1v1h-1zM300 60h3v1h-3zM125 172h1v1h-1zM141 172h1v1h-1zM150 172h1v1h-1zM158 172h1v1h-1zM166 172h1v1h-1zM175 172h1v1h-1zM38 252h1v1h-1zM41 252h1v1h-1zM-2 329h1v1h-1zM0 329h1v1h-1zM2 329h1v1h-1zM233 118h1v1h-1zM5 300h3v1h-3zM9 300h3v1h-3zM8 265h1v1h-1zM16 265h1v1h-1zM306 49h1v1h-1zM308 49h1v1h-1zM310 49h1v1h-1zM315 49h1v1h-1zM317 49h1v1h-1zM319 49h1v1h-1zM408 6h1v1h-1zM417 6h1v1h-1zM429 6h1v1h-1zM406 22h1v1h-1zM408 22h1v1h-1zM410 22h1v1h-1zM46 228h11v1h-11zM59 228h6v1h-6zM67 228h4v1h-4zM37 254h1v1h-1zM300 75h1v1h-1zM6 277h1v1h-1zM8 277h1v1h-1zM10 277h1v1h-1zM300 88h1v1h-1zM200 150h1v1h-1zM41 242h1v1h-1zM50 242h1v1h-1zM283 89h1v1h-1zM292 89h1v1h-1zM300 89h1v1h-1zM37 37h1v1h-1zM39 37h1v1h-1zM41 37h1v1h-1zM325 37h1v1h-1zM342 37h1v1h-1zM0 326h1v1h-1zM300 65h1v1h-1zM6 267h1v1h-1zM8 267h1v1h-1zM10 267h1v1h-1zM14 267h1v1h-1zM16 267h1v1h-1zM18 267h1v1h-1zM307 50h3v1h-3zM316 50h3v1h-3zM435 1h1v1h-1zM300 78h1v1h-1zM7 280h3v1h-3zM408 25h1v1h-1zM39 42h1v1h-1zM324 42h3v1h-3zM341 42h3v1h-3zM175 168h1v1h-1zM8 297h1v1h-1zM41 245h1v1h-1zM87 212h1v1h-1zM300 68h1v1h-1zM223 127h1v1h-1zM225 127h1v1h-1zM233 127h1v1h-1zM408 15h1v1h-1zM91 200h1v1h-1zM8 287h1v1h-1zM342 27h1v1h-1zM350 27h1v1h-1zM358 27h1v1h-1zM367 27h1v1h-1zM392 27h1v1h-1zM400 27h1v1h-1zM408 27h1v1h-1zM175 171h1v1h-1zM304 56h1v1h-1zM16 263h1v1h-1zM25 263h1v1h-1zM33 263h1v1h-1zM233 117h1v1h-1zM250 117h1v1h-1zM267 117h1v1h-1zM275 117h1v1h-1zM283 117h1v1h-1zM7 299h2v1h-2zM175 152h1v1h-1zM183 152h1v1h-1zM200 152h1v1h-1zM224 125h3v1h-3zM233 125h2v1h-2zM65 218h3v1h-3zM83 218h2v1h-2zM283 108h1v1h-1zM40 247h3v1h-3zM58 232h1v1h-1zM66 232h1v1h-1zM6 312h1v1h-1zM10 312h1v1h-1zM91 183h1v1h-1zM100 183h1v1h-1zM108 183h1v1h-1zM125 183h1v1h-1zM208 138h1v1h-1zM217 138h1v1h-1zM6 302h1v1h-1zM10 302h1v1h-1zM300 77h1v1h-1zM41 244h1v1h-1zM0 328h1v1h-1zM300 67h1v1h-1zM321 46h1v1h-1zM308 48h1v1h-1zM317 48h1v1h-1zM319 48h1v1h-1zM91 199h1v1h-1zM298 80h1v1h-1zM300 80h1v1h-1zM302 80h1v1h-1zM200 142h1v1h-1zM208 142h1v1h-1zM0 318h1v1h-1zM175 170h1v1h-1zM175 151h1v1h-1zM183 151h1v1h-1zM200 151h1v1h-1zM-3 331h4v1h-4zM39 36h1v1h-1zM342 36h1v1h-1zM8 276h1v1h-1zM408 17h1v1h-1zM283 107h1v1h-1zM91 202h1v1h-1zM39 246h1v1h-1zM41 246h1v1h-1zM43 246h1v1h-1zM233 119h1v1h-1zM8 266h1v1h-1zM16 266h1v1h-1zM66 220h1v1h-1zM83 220h1v1h-1zM417 14h1v1h-1zM425 14h1v1h-1zM40 249h3v1h-3zM208 137h1v1h-1zM217 137h1v1h-1zM407 19h3v1h-3zM88 211h1v1h-1zM91 211h1v1h-1zM50 224h1v1h-1zM58 224h1v1h-1zM66 224h1v1h-1zM300 79h1v1h-1zM200 141h1v1h-1zM208 141h1v1h-1zM408 26h1v1h-1zM281 101h1v1h-1zM283 101h1v1h-1zM285 101h1v1h-1zM6 281h1v1h-1zM8 281h1v1h-1zM10 281h1v1h-1zM-1 330h3v1h-3zM300 69h1v1h-1zM282 102h3v1h-3zM91 201h1v1h-1zM342 28h1v1h-1zM350 28h1v1h-1zM358 28h1v1h-1zM367 28h1v1h-1zM392 28h1v1h-1zM400 28h1v1h-1zM408 28h1v1h-1zM304 57h1v1h-1zM16 264h1v1h-1zM91 191h1v1h-1zM175 162h1v1h-1zM225 121h1v1h-1zM233 121h1v1h-1zM283 99h1v1h-1zM66 222h1v1h-1zM89 205h1v1h-1zM91 205h1v1h-1zM93 205h1v1h-1zM208 139h1v1h-1zM300 58h1v1h-1zM175 161h1v1h-1zM91 203h1v1h-1zM225 120h1v1h-1zM233 120h1v1h-1zM283 98h1v1h-1zM430 4h1v1h-1zM66 221h1v1h-1zM83 221h1v1h-1zM8 293h1v1h-1zM89 194h1v1h-1zM91 194h1v1h-1zM93 194h1v1h-1zM91 195h2v1h-2zM50 234h1v1h-1zM298 70h1v1h-1zM300 70h1v1h-1zM302 70h1v1h-1zM0 334h1v1h-1zM91 192h1v1h-1zM431 3h1v1h-1zM0 324h1v1h-1zM-2 333h1v1h-1zM0 333h1v1h-1zM2 333h1v1h-1zM283 100h1v1h-1zM8 282h1v1h-1zM50 233h1v1h-1zM66 213h1v1h-1zM83 213h1v1h-1zM86 213h1v1h-1zM301 83h1v1h-1zM91 204h1v1h-1zM300 85h1v1h-1zM8 294h1v1h-1zM8 284h1v1h-1zM158 172h1v9h-1zM50 224h1v8h-1zM50 233h1v4h-1zM50 238h1v5h-1zM225 120h1v9h-1zM8 265h1v35h-1zM66 213h1v10h-1zM66 224h1v4h-1zM66 229h1v4h-1zM89 209h1v2h-1zM282 92h1v2h-1zM282 102h1v3h-1zM282 112h1v3h-1zM38 38h1v3h-1zM425 7h1v8h-1zM300 60h1v23h-1zM300 84h1v14h-1zM200 141h1v4h-1zM200 146h1v14h-1zM108 182h1v9h-1zM39 35h1v9h-1zM39 250h1v2h-1zM325 37h1v9h-1zM208 130h1v10h-1zM208 141h1v9h-1zM-1 320h1v3h-1zM-1 330h1v3h-1zM100 182h1v9h-1zM302 59h1v2h-1zM209 133h1v3h-1zM209 144h1v3h-1zM58 224h1v4h-1zM58 229h1v4h-1zM1 320h1v3h-1zM301 60h1v4h-1zM301 71h1v3h-1zM301 92h1v3h-1zM266 112h1v3h-1zM9 268h1v3h-1zM9 278h1v3h-1zM9 289h1v3h-1zM9 300h1v2h-1zM9 309h1v3h-1zM9 320h1v3h-1zM33 255h1v9h-1zM317 47h1v6h-1zM317 54h1v2h-1zM34 257h1v4h-1zM49 227h1v3h-1zM429 5h1v2h-1zM367 27h1v7h-1zM408 6h1v8h-1zM408 17h1v19h-1zM142 175h1v3h-1zM176 154h1v3h-1zM176 164h1v3h-1zM176 175h1v3h-1zM424 9h1v3h-1zM219 131h1v2h-1zM417 6h1v3h-1zM417 12h1v3h-1zM41 235h1v3h-1zM41 239h1v4h-1zM41 244h1v9h-1zM284 102h1v3h-1zM284 112h1v3h-1zM304 56h1v2h-1zM37 253h1v2h-1zM126 175h1v3h-1zM126 185h1v3h-1zM250 109h1v5h-1zM250 115h1v3h-1zM25 255h1v9h-1zM308 47h1v9h-1zM91 182h1v11h-1zM91 194h1v18h-1zM107 185h1v3h-1zM400 27h1v9h-1zM358 27h1v9h-1zM0 317h1v18h-1zM175 151h1v9h-1zM175 161h1v20h-1zM350 27h1v9h-1zM16 255h1v19h-1zM351 30h1v3h-1zM392 27h1v9h-1zM17 258h1v3h-1zM17 268h1v3h-1zM83 213h1v4h-1zM83 218h1v4h-1zM183 151h1v4h-1zM183 156h1v4h-1zM35 256h1v2h-1zM125 172h1v19h-1zM299 61h1v3h-1zM299 71h1v3h-1zM299 81h1v2h-1zM299 92h1v3h-1zM141 172h1v9h-1zM90 185h1v3h-1zM90 196h1v2h-1zM90 206h1v3h-1zM283 89h1v4h-1zM283 94h1v24h-1zM275 109h1v9h-1zM233 109h1v15h-1zM233 125h1v4h-1zM166 172h1v9h-1zM82 216h1v2h-1zM342 27h1v16h-1zM342 44h1v2h-1zM159 175h1v3h-1zM226 123h1v3h-1zM217 130h1v4h-1zM217 135h1v4h-1zM140 175h1v3h-1zM274 112h1v3h-1zM267 109h1v9h-1zM85 214h1v2h-1zM224 123h1v3h-1zM124 175h1v3h-1zM124 185h1v3h-1zM150 172h1v4h-1zM150 177h1v4h-1zM368 30h1v3h-1zM174 154h1v3h-1zM174 164h1v3h-1zM174 175h1v3h-1zM306 53h1v2h-1zM293 92h1v3h-1zM15 258h1v3h-1zM15 268h1v3h-1zM401 30h1v3h-1zM319 48h1v2h-1zM157 175h1v3h-1zM323 43h1v2h-1zM292 89h1v9h-1zM316 50h1v3h-1zM207 133h1v3h-1zM207 144h1v3h-1zM7 268h1v3h-1zM7 278h1v3h-1zM7 289h1v3h-1zM7 299h1v3h-1zM7 309h1v3h-1zM7 320h1v3h-1zM276 112h1v3h-1zM291 92h1v3h-1zM318 50h1v2h-1zM67 216h1v3h-1zM67 228h1v2h-1zM326 40h1v3h-1zM101 185h1v3h-1zM42 238h1v2h-1zM42 247h1v3h-1zM359 30h1v3h-1zM84 217h1v2h-1zM343 30h1v3h-1zM343 40h1v3h-1zM99 185h1v3h-1zM32 258h1v3h-1zM151 176h1v2h-1zM51 227h1v3h-1zM51 238h1v2h-1zM201 145h1v2h-1zM201 154h1v3h-1zM399 30h1v3h-1zM349 30h1v3h-1zM182 154h1v2h-1zM409 9h1v3h-1zM409 19h1v3h-1zM409 30h1v3h-1zM165 175h1v3h-1zM223 126h1v2h-1zM393 30h1v3h-1zM366 30h1v3h-1zM234 112h1v3h-1zM199 154h1v3h-1zM307 50h1v4h-1zM26 258h1v3h-1zM65 216h1v3h-1zM324 40h1v3h-1zM309 50h1v3h-1zM40 38h1v3h-1zM40 237h1v2h-1zM40 247h1v4h-1zM24 258h1v3h-1zM426 9h1v3h-1zM357 30h1v3h-1zM59 228h1v2h-1zM167 175h1v3h-1zM341 30h1v3h-1zM341 40h1v3h-1zM232 112h1v3h-1zM232 123h1v2h-1zM92 185h1v3h-1zM92 195h1v3h-1zM92 206h1v3h-1zM216 133h1v2h-1zM407 9h1v3h-1zM407 19h1v3h-1zM407 30h1v3h-1zM268 112h1v3h-1zM249 112h1v2h-1zM391 30h1v3h-1zM109 185h1v3h-1z"/>
<path fill="#00f" d="M60 226h2v1h-2zM113 152h2v1h-2zM118 152h2v1h-2zM105 171h1v1h-1zM232 91h2v1h-2zM331 47h3v1h-3zM431 -3h2v1h-2zM436 -3h2v1h-2zM15 286h1v1h-1zM71 218h1v1h-1zM73 218h2v1h-2zM79 218h1v1h-1zM18 282h1v1h-1zM112 154h1v1h-1zM117 154h1v1h-1zM120 154h1v1h-1zM138 128h1v1h-1zM140 128h3v1h-3zM374 31h2v1h-2zM279 68h2v1h-2zM420 7h2v1h-2zM175 113h3v1h-3zM228 93h2v1h-2zM342 43h3v1h-3zM140 120h3v1h-3zM153 120h3v1h-3zM97 184h1v1h-1zM205 100h2v1h-2zM210 100h2v1h-2zM214 100h2v1h-2zM31 257h1v1h-1zM133 134h1v1h-1zM-4 331h1v1h-1zM1 331h8v1h-8zM12 331h1v1h-1zM38 53h3v1h-3zM315 53h3v1h-3zM-1 327h1v1h-1zM1 327h1v1h-1zM7 327h3v1h-3zM285 65h2v1h-2zM289 65h2v1h-2zM294 65h2v1h-2zM70 220h1v1h-1zM72 220h2v1h-2zM77 220h1v1h-1zM-3 328h2v1h-2zM2 328h2v1h-2zM5 328h2v1h-2zM8 328h1v1h-1zM10 328h2v1h-2zM14 289h1v1h-1zM347 41h3v1h-3zM204 104h3v1h-3zM212 104h1v1h-1zM81 208h1v1h-1zM181 111h4v1h-4zM128 140h1v1h-1zM394 21h1v1h-1zM27 264h1v1h-1zM248 83h3v1h-3zM363 35h3v1h-3zM374 35h3v1h-3zM-3 334h2v1h-2zM2 334h2v1h-2zM5 334h2v1h-2zM10 334h2v1h-2zM137 124h1v1h-1zM141 124h2v1h-2zM145 124h1v1h-1zM271 72h2v1h-2zM390 23h2v1h-2zM113 160h1v1h-1zM371 32h3v1h-3zM379 32h1v1h-1zM65 223h2v1h-2zM7 296h1v1h-1zM9 296h2v1h-2zM57 228h2v1h-2zM49 233h1v1h-1zM267 74h2v1h-2zM136 130h1v1h-1zM26 267h1v1h-1zM416 9h2v1h-2zM169 115h3v1h-3zM224 95h2v1h-2zM138 122h1v1h-1zM144 122h1v1h-1zM146 122h3v1h-3zM18 281h1v1h-1zM194 107h3v1h-3zM207 107h3v1h-3zM-3 329h1v1h-1zM3 329h1v1h-1zM5 329h1v1h-1zM8 329h1v1h-1zM11 329h1v1h-1zM5 303h2v1h-2zM8 303h1v1h-1zM10 303h2v1h-2zM35 58h1v1h-1zM43 58h1v1h-1zM291 58h3v1h-3zM302 58h3v1h-3zM97 183h1v1h-1zM281 67h2v1h-2zM37 245h1v1h-1zM36 59h1v1h-1zM42 59h1v1h-1zM289 59h2v1h-2zM294 59h2v1h-2zM299 59h3v1h-3zM22 274h1v1h-1zM104 173h1v1h-1zM339 44h3v1h-3zM159 118h3v1h-3zM14 288h1v1h-1zM138 121h2v1h-2zM143 121h2v1h-2zM149 121h4v1h-4zM244 85h2v1h-2zM40 234h3v1h-3zM47 234h2v1h-2zM5 297h2v1h-2zM10 297h2v1h-2zM355 38h3v1h-3zM93 190h1v1h-1zM7 304h3v1h-3zM386 25h2v1h-2zM207 99h3v1h-3zM216 99h2v1h-2zM323 50h3v1h-3zM-3 333h1v1h-1zM3 333h1v1h-1zM5 333h1v1h-1zM11 333h1v1h-1zM88 197h1v1h-1zM288 62h1v1h-1zM291 62h3v1h-3zM296 62h1v1h-1zM-1 335h3v1h-3zM7 335h3v1h-3zM74 213h3v1h-3zM78 213h1v1h-1zM165 116h4v1h-4zM263 76h2v1h-2zM113 159h1v1h-1zM115 159h3v1h-3zM413 11h2v1h-2zM72 214h2v1h-2zM77 214h2v1h-2zM-4 332h1v1h-1zM4 332h1v1h-1zM12 332h1v1h-1zM80 210h1v1h-1zM220 97h2v1h-2zM38 241h2v1h-2zM43 241h1v1h-1zM361 36h2v1h-2zM115 151h3v1h-3zM119 151h1v1h-1zM428 3h1v1h-1zM432 3h1v1h-1zM436 3h2v1h-2zM188 109h3v1h-3zM36 60h2v1h-2zM41 60h2v1h-2zM289 60h1v1h-1zM295 60h1v1h-1zM297 60h2v1h-2zM409 13h2v1h-2zM84 204h1v1h-1zM4 299h1v1h-1zM9 299h1v1h-1zM12 299h1v1h-1zM277 69h2v1h-2zM226 94h2v1h-2zM36 54h2v1h-2zM41 54h2v1h-2zM313 54h2v1h-2zM366 34h3v1h-3zM372 34h2v1h-2zM377 34h2v1h-2zM8 321h1v1h-1zM38 61h3v1h-3zM288 61h1v1h-1zM294 61h3v1h-3zM283 66h2v1h-2zM291 66h3v1h-3zM-4 330h1v1h-1zM4 330h1v1h-1zM8 330h1v1h-1zM12 330h1v1h-1zM334 46h3v1h-3zM37 239h1v1h-1zM40 239h1v1h-1zM45 239h1v1h-1zM273 71h2v1h-2zM138 127h2v1h-2zM143 127h2v1h-2zM201 105h3v1h-3zM205 105h1v1h-1zM211 105h1v1h-1zM240 87h2v1h-2zM135 132h1v1h-1zM178 112h3v1h-3zM38 236h1v1h-1zM44 236h2v1h-2zM350 40h3v1h-3zM112 155h1v1h-1zM116 155h1v1h-1zM120 155h1v1h-1zM374 27h3v1h-3zM382 27h2v1h-2zM205 101h1v1h-1zM211 101h3v1h-3zM318 52h3v1h-3zM68 221h2v1h-2zM74 221h2v1h-2zM287 64h3v1h-3zM295 64h1v1h-1zM72 215h1v1h-1zM76 215h1v1h-1zM78 215h1v1h-1zM259 78h2v1h-2zM204 103h1v1h-1zM207 103h3v1h-3zM212 103h1v1h-1zM8 316h1v1h-1zM185 110h3v1h-3zM8 325h1v1h-1zM100 179h1v1h-1zM288 63h3v1h-3zM296 63h1v1h-1zM4 300h1v1h-1zM8 300h1v1h-1zM12 300h1v1h-1zM124 145h1v1h-1zM127 141h1v1h-1zM405 15h2v1h-2zM63 224h2v1h-2zM222 96h2v1h-2zM38 240h1v1h-1zM40 240h1v1h-1zM44 240h1v1h-1zM17 284h1v1h-1zM35 56h1v1h-1zM43 56h1v1h-1zM307 56h3v1h-3zM84 203h1v1h-1zM107 168h1v1h-1zM5 298h1v1h-1zM9 298h1v1h-1zM11 298h1v1h-1zM87 199h1v1h-1zM71 219h2v1h-2zM78 219h1v1h-1zM269 73h2v1h-2zM5 302h1v1h-1zM8 302h1v1h-1zM11 302h1v1h-1zM8 311h1v1h-1zM8 320h1v1h-1zM372 28h2v1h-2zM377 28h2v1h-2zM380 28h2v1h-2zM55 229h2v1h-2zM369 33h2v1h-2zM372 33h1v1h-1zM378 33h1v1h-1zM172 114h3v1h-3zM433 -4h1v1h-1zM435 -4h1v1h-1zM135 131h1v1h-1zM36 247h1v1h-1zM424 5h2v1h-2zM13 291h1v1h-1zM246 84h2v1h-2zM103 175h1v1h-1zM130 138h1v1h-1zM388 24h2v1h-2zM162 117h3v1h-3zM8 306h1v1h-1zM8 315h1v1h-1zM8 324h1v1h-1zM261 77h2v1h-2zM32 254h1v1h-1zM358 37h3v1h-3zM156 119h3v1h-3zM218 98h2v1h-2zM326 49h3v1h-3zM191 108h3v1h-3zM430 -1h1v1h-1zM438 -1h1v1h-1zM265 75h2v1h-2zM407 14h2v1h-2zM113 158h2v1h-2zM118 158h2v1h-2zM52 231h2v1h-2zM36 55h1v1h-1zM42 55h1v1h-1zM310 55h3v1h-3zM4 301h1v1h-1zM8 301h1v1h-1zM12 301h1v1h-1zM99 181h1v1h-1zM8 310h1v1h-1zM431 -2h1v1h-1zM437 -2h1v1h-1zM23 271h1v1h-1zM8 319h1v1h-1zM337 45h2v1h-2zM197 106h4v1h-4zM205 106h2v1h-2zM210 106h2v1h-2zM242 86h2v1h-2zM384 26h2v1h-2zM321 51h2v1h-2zM103 174h1v1h-1zM83 205h1v1h-1zM106 170h1v1h-1zM113 153h1v1h-1zM118 153h2v1h-2zM257 79h2v1h-2zM353 39h2v1h-2zM8 305h1v1h-1zM38 235h2v1h-2zM43 235h2v1h-2zM46 235h1v1h-1zM8 314h1v1h-1zM35 249h1v1h-1zM12 293h1v1h-1zM90 194h1v1h-1zM253 81h2v1h-2zM372 29h1v1h-1zM378 29h2v1h-2zM403 16h2v1h-2zM204 102h1v1h-1zM210 102h3v1h-3zM275 70h2v1h-2zM430 1h1v1h-1zM438 1h1v1h-1zM126 143h1v1h-1zM39 242h2v1h-2zM31 256h1v1h-1zM86 201h1v1h-1zM238 88h2v1h-2zM137 125h1v1h-1zM140 125h1v1h-1zM145 125h1v1h-1zM426 4h1v1h-1zM433 4h1v1h-1zM435 4h1v1h-1zM234 90h2v1h-2zM371 30h1v1h-1zM376 30h2v1h-2zM379 30h1v1h-1zM30 259h1v1h-1zM345 42h2v1h-2zM399 18h2v1h-2zM329 48h2v1h-2zM102 176h1v1h-1zM26 266h1v1h-1zM395 20h2v1h-2zM138 126h2v1h-2zM144 126h1v1h-1zM62 225h1v1h-1zM109 166h1v1h-1zM54 230h1v1h-1zM121 149h1v1h-1zM137 123h1v1h-1zM143 123h3v1h-3zM86 200h1v1h-1zM89 196h1v1h-1zM422 6h2v1h-2zM22 273h1v1h-1zM137 129h1v1h-1zM236 89h2v1h-2zM30 258h1v1h-1zM129 139h1v1h-1zM132 135h1v1h-1zM34 252h1v1h-1zM255 80h2v1h-2zM80 209h1v1h-1zM50 232h2v1h-2zM37 237h1v1h-1zM42 237h2v1h-2zM45 237h1v1h-1zM112 156h1v1h-1zM115 156h1v1h-1zM120 156h1v1h-1zM418 8h2v1h-2zM109 165h1v1h-1zM71 216h1v1h-1zM76 216h1v1h-1zM79 216h1v1h-1zM35 57h1v1h-1zM43 57h1v1h-1zM305 57h2v1h-2zM401 17h2v1h-2zM38 244h1v1h-1zM105 172h1v1h-1zM21 276h1v1h-1zM85 202h1v1h-1zM251 82h2v1h-2zM37 238h1v1h-1zM41 238h1v1h-1zM34 251h1v1h-1zM392 22h2v1h-2zM112 161h1v1h-1zM92 192h1v1h-1zM113 157h1v1h-1zM115 157h1v1h-1zM119 157h1v1h-1zM397 19h2v1h-2zM17 283h1v1h-1zM96 185h1v1h-1zM411 12h2v1h-2zM25 268h1v1h-1zM13 290h1v1h-1zM38 243h1v1h-1zM108 167h1v1h-1zM29 261h1v1h-1zM120 150h1v1h-1zM21 275h1v1h-1zM8 323h1v1h-1zM131 137h1v1h-1zM92 191h1v1h-1zM99 180h1v1h-1zM8 309h1v1h-1zM33 253h1v1h-1zM8 318h1v1h-1zM88 198h1v1h-1zM111 163h1v1h-1zM123 146h1v1h-1zM16 285h1v1h-1zM95 187h1v1h-1zM29 260h1v1h-1zM134 133h1v1h-1zM8 313h1v1h-1zM20 278h1v1h-1zM8 322h1v1h-1zM131 136h1v1h-1zM12 292h1v1h-1zM79 211h1v1h-1zM82 207h1v1h-1zM28 263h1v1h-1zM126 142h1v1h-1zM11 295h1v1h-1zM8 308h1v1h-1zM230 92h2v1h-2zM8 317h1v1h-1zM8 326h1v1h-1zM111 162h1v1h-1zM24 270h1v1h-1zM95 186h1v1h-1zM75 217h1v1h-1zM107 169h1v1h-1zM8 312h1v1h-1zM20 277h1v1h-1zM82 206h1v1h-1zM36 248h1v1h-1zM91 193h1v1h-1zM94 189h1v1h-1zM28 262h1v1h-1zM19 280h1v1h-1zM11 294h1v1h-1zM8 307h1v1h-1zM98 182h1v1h-1zM101 178h1v1h-1zM32 255h1v1h-1zM67 222h1v1h-1zM59 227h1v1h-1zM24 269h1v1h-1zM122 148h1v1h-1zM15 287h1v1h-1zM415 10h1v1h-1zM23 272h1v1h-1zM94 188h1v1h-1zM437 2h1v1h-1zM27 265h1v1h-1zM19 279h1v1h-1zM78 212h1v1h-1zM101 177h1v1h-1zM125 144h1v1h-1zM35 250h1v1h-1zM110 164h1v1h-1zM90 195h1v1h-1zM122 147h1v1h-1zM105 171h1v2h-1zM437 -3h1v2h-1zM437 2h1v2h-1zM15 286h1v2h-1zM18 281h1v2h-1zM97 183h1v2h-1zM31 256h1v2h-1zM10 296h1v2h-1zM14 288h1v2h-1zM205 100h1v2h-1zM205 104h1v3h-1zM120 154h1v3h-1zM27 264h1v2h-1zM5 297h1v2h-1zM5 302h1v2h-1zM5 328h1v2h-1zM5 333h1v2h-1zM113 152h1v2h-1zM113 157h1v4h-1zM379 29h1v2h-1zM26 266h1v2h-1zM9 298h1v2h-1zM-3 328h1v2h-1zM-3 333h1v2h-1zM37 237h1v3h-1zM22 273h1v2h-1zM139 126h1v2h-1zM42 54h1v2h-1zM42 59h1v2h-1zM289 59h1v2h-1zM289 63h1v3h-1zM88 197h1v2h-1zM8 300h1v32h-1zM76 215h1v2h-1zM112 154h1v3h-1zM115 156h1v2h-1zM12 292h1v2h-1zM12 299h1v3h-1zM12 330h1v3h-1zM80 209h1v2h-1zM38 235h1v2h-1zM38 240h1v2h-1zM38 243h1v2h-1zM84 203h1v2h-1zM72 214h1v2h-1zM72 219h1v2h-1zM378 28h1v2h-1zM378 33h1v2h-1zM39 241h1v2h-1zM45 236h1v2h-1zM135 131h1v2h-1zM43 56h1v3h-1zM4 299h1v3h-1zM4 330h1v3h-1zM212 101h1v4h-1zM296 61h1v3h-1zM35 56h1v3h-1zM35 249h1v2h-1zM40 239h1v2h-1zM17 283h1v2h-1zM107 168h1v2h-1zM119 151h1v3h-1zM119 157h1v2h-1zM11 294h1v2h-1zM11 297h1v2h-1zM11 302h1v2h-1zM11 328h1v2h-1zM11 333h1v2h-1zM288 61h1v4h-1zM36 54h1v2h-1zM36 59h1v2h-1zM36 247h1v2h-1zM13 290h1v2h-1zM103 174h1v2h-1zM-4 330h1v3h-1zM32 254h1v2h-1zM71 218h1v2h-1zM138 121h1v2h-1zM138 126h1v3h-1zM118 152h1v2h-1zM44 235h1v2h-1zM99 180h1v2h-1zM295 59h1v3h-1zM295 64h1v2h-1zM431 -3h1v2h-1zM23 271h1v2h-1zM372 28h1v2h-1zM372 32h1v3h-1zM3 328h1v2h-1zM3 333h1v2h-1zM90 194h1v2h-1zM211 100h1v3h-1zM211 105h1v2h-1zM126 142h1v2h-1zM86 200h1v2h-1zM78 212h1v4h-1zM145 123h1v3h-1zM30 258h1v2h-1zM137 123h1v3h-1zM109 165h1v2h-1zM144 121h1v3h-1zM144 126h1v2h-1zM34 251h1v2h-1zM21 275h1v2h-1zM92 191h1v2h-1zM204 102h1v3h-1zM29 260h1v2h-1zM131 136h1v2h-1zM111 162h1v2h-1zM95 186h1v2h-1zM20 277h1v2h-1zM82 206h1v2h-1zM28 262h1v2h-1zM24 269h1v2h-1zM94 188h1v2h-1zM19 279h1v2h-1zM101 177h1v2h-1zM122 147h1v2h-1z"/>
<path fill="#0f0" d="M115 197h2v1h-2zM359 46h2v1h-2zM351 51h2v1h-2zM251 113h2v1h-2zM243 118h2v1h-2zM301 82h2v1h-2zM29 248h7v1h-7zM37 248h1v1h-1zM409 15h2v1h-2zM57 233h2v1h-2zM401 20h2v1h-2zM49 238h1v1h-1zM293 87h2v1h-2zM430 0h9v1h-9zM285 92h2v1h-2zM343 56h2v1h-2zM35 76h9v1h-9zM311 76h1v1h-1zM335 61h2v1h-2zM356 48h2v1h-2zM348 53h2v1h-2zM340 58h2v1h-2zM240 120h1v1h-1zM393 25h2v1h-2zM385 30h2v1h-2zM418 10h1v1h-1zM377 35h2v1h-2zM406 17h2v1h-2zM398 22h2v1h-2zM390 27h2v1h-2zM290 89h1v1h-1zM39 80h1v1h-1zM304 80h2v1h-2zM282 94h1v1h-1zM274 99h1v1h-1zM173 161h2v1h-2zM165 166h2v1h-2zM157 171h2v1h-2zM427 4h2v1h-2zM327 66h2v1h-2zM319 71h2v1h-2zM332 63h1v1h-1zM33 252h1v1h-1zM324 68h1v1h-1zM215 135h2v1h-2zM39 75h1v1h-1zM312 75h2v1h-2zM207 140h2v1h-2zM99 207h2v1h-2zM369 40h2v1h-2zM91 212h2v1h-2zM80 219h1v1h-1zM361 45h2v1h-2zM382 32h2v1h-2zM374 37h1v1h-1zM266 104h1v1h-1zM257 109h2v1h-2zM33 247h3v1h-3zM249 114h2v1h-2zM149 176h2v1h-2zM278 96h2v1h-2zM419 9h2v1h-2zM141 181h2v1h-2zM411 14h2v1h-2zM39 79h1v1h-1zM306 79h2v1h-2zM133 186h2v1h-2zM432 1h2v1h-2zM403 19h2v1h-2zM424 6h2v1h-2zM416 11h2v1h-2zM39 73h1v1h-1zM316 73h1v1h-1zM39 78h1v1h-1zM308 78h1v1h-1zM167 165h2v1h-2zM299 83h2v1h-2zM199 145h2v1h-2zM191 150h2v1h-2zM183 155h2v1h-2zM212 137h2v1h-2zM172 162h1v1h-1zM71 224h2v1h-2zM204 142h2v1h-2zM33 251h1v1h-1zM63 229h2v1h-2zM196 147h2v1h-2zM96 209h1v1h-1zM55 234h2v1h-2zM366 42h1v1h-1zM76 221h2v1h-2zM358 47h1v1h-1zM217 134h2v1h-2zM68 226h2v1h-2zM350 52h1v1h-1zM209 139h2v1h-2zM241 119h2v1h-2zM233 124h2v1h-2zM222 131h1v1h-1zM122 193h1v1h-1zM254 111h2v1h-2zM114 198h1v1h-1zM395 24h2v1h-2zM246 116h2v1h-2zM105 203h2v1h-2zM138 183h1v1h-1zM408 16h1v1h-1zM126 190h2v1h-2zM130 188h1v1h-1zM267 103h2v1h-2zM33 246h1v1h-1zM36 246h2v1h-2zM118 195h2v1h-2zM400 21h1v1h-1zM259 108h2v1h-2zM291 88h2v1h-2zM283 93h2v1h-2zM175 160h2v1h-2zM164 167h1v1h-1zM296 85h2v1h-2zM156 172h1v1h-1zM288 90h2v1h-2zM188 152h2v1h-2zM47 239h2v1h-2zM180 157h1v1h-1zM33 244h1v1h-1zM39 244h2v1h-2zM160 169h2v1h-2zM60 231h2v1h-2zM342 57h1v1h-1zM52 236h2v1h-2zM333 62h2v1h-2zM44 241h2v1h-2zM225 129h2v1h-2zM325 67h2v1h-2zM354 49h2v1h-2zM39 74h1v1h-1zM314 74h2v1h-2zM214 136h1v1h-1zM346 54h2v1h-2zM206 141h1v1h-1zM338 59h2v1h-2zM238 121h2v1h-2zM198 146h1v1h-1zM97 208h2v1h-2zM230 126h2v1h-2zM89 213h2v1h-2zM81 218h2v1h-2zM110 200h2v1h-2zM392 26h1v1h-1zM384 31h1v1h-1zM102 205h2v1h-2zM94 210h2v1h-2zM275 98h2v1h-2zM375 36h2v1h-2zM364 43h2v1h-2zM264 105h2v1h-2zM256 110h1v1h-1zM388 28h2v1h-2zM248 115h1v1h-1zM147 177h2v1h-2zM280 95h2v1h-2zM139 182h2v1h-2zM272 100h2v1h-2zM131 187h2v1h-2zM152 174h2v1h-2zM144 179h2v1h-2zM426 5h1v1h-1zM39 72h1v1h-1zM317 72h2v1h-2zM298 84h1v1h-1zM430 2h2v1h-2zM330 64h2v1h-2zM190 151h1v1h-1zM322 69h2v1h-2zM181 156h2v1h-2zM202 143h2v1h-2zM73 223h2v1h-2zM194 148h2v1h-2zM65 228h2v1h-2zM86 215h2v1h-2zM367 41h2v1h-2zM78 220h2v1h-2zM70 225h1v1h-1zM380 33h2v1h-2zM372 38h2v1h-2zM232 125h1v1h-1zM223 130h2v1h-2zM123 192h2v1h-2zM236 122h2v1h-2zM107 202h2v1h-2zM136 184h2v1h-2zM128 189h2v1h-2zM120 194h2v1h-2zM422 7h2v1h-2zM414 12h2v1h-2zM186 153h2v1h-2zM178 158h2v1h-2zM170 163h2v1h-2zM62 230h1v1h-1zM54 235h1v1h-1zM228 127h2v1h-2zM220 132h2v1h-2zM112 199h2v1h-2zM104 204h1v1h-1zM270 101h2v1h-2zM262 106h2v1h-2zM162 168h2v1h-2zM154 173h2v1h-2zM146 178h1v1h-1zM434 -1h1v1h-1zM434 -2h1v1h-1zM46 240h1v1h-1zM33 245h1v1h-1zM38 245h1v1h-1zM50 237h2v1h-2zM42 242h2v1h-2zM88 214h1v1h-1zM387 29h1v1h-1zM379 34h1v1h-1zM371 39h1v1h-1zM143 180h1v1h-1zM135 185h1v1h-1zM84 216h2v1h-2zM429 3h1v1h-1zM33 250h1v1h-1zM321 70h1v1h-1zM421 8h1v1h-1zM193 149h1v1h-1zM185 154h1v1h-1zM177 159h1v1h-1zM363 44h1v1h-1zM235 123h1v1h-1zM227 128h1v1h-1zM39 77h1v1h-1zM309 77h2v1h-2zM413 13h1v1h-1zM405 18h1v1h-1zM397 23h1v1h-1zM277 97h1v1h-1zM269 102h1v1h-1zM169 164h1v1h-1zM33 249h1v1h-1zM219 133h1v1h-1zM211 138h1v1h-1zM261 107h1v1h-1zM253 112h1v1h-1zM41 243h1v1h-1zM303 81h1v1h-1zM295 86h1v1h-1zM83 217h1v1h-1zM353 50h1v1h-1zM75 222h1v1h-1zM345 55h1v1h-1zM245 117h1v1h-1zM101 206h1v1h-1zM125 191h1v1h-1zM287 91h1v1h-1zM151 175h1v1h-1zM67 227h1v1h-1zM337 60h1v1h-1zM59 232h1v1h-1zM329 65h1v1h-1zM93 211h1v1h-1zM117 196h1v1h-1zM109 201h1v1h-1zM434 -3h1v1h-1zM159 170h1v1h-1zM201 144h1v1h-1zM434 -4h1v1h-1zM39 72h1v9h-1zM33 244h1v9h-1zM34 247h1v2h-1zM432 0h1v2h-1zM434 -4h1v5h-1zM35 247h1v2h-1zM433 0h1v2h-1z"/>
</g>
<g font-family="Liberation Sans, Arial, Helvetica, sans-serif" font-size="26.67px" fill="#000" stroke="#fff" stroke-width="0.35" opacity="0.999">
<text transform="translate(98.80 770.50) scale(1.05 1.12)" text-anchor="middle">0</text>
<text transform="translate(90.60 748.70) scale(1.05 1.15)" text-anchor="end">0</text>
<text transform="translate(188.70 770.50) scale(1.05 1.12)" text-anchor="middle">0.1</text>
<text transform="translate(90.60 675.17) scale(1.05 1.15)" text-anchor="end">0.1</text>
<text transform="translate(279.35 770.50) scale(1.05 1.12)" text-anchor="middle">0.2</text>
<text transform="translate(90.60 603.74) scale(1.05 1.15)" text-anchor="end">0.2</text>
<text transform="translate(372.30 770.50) scale(1.05 1.12)" text-anchor="middle">0.3</text>
<text transform="translate(90.60 532.31) scale(1.05 1.15)" text-anchor="end">0.3</text>
<text transform="translate(462.90 770.50) scale(1.05 1.12)" text-anchor="middle">0.4</text>
<text transform="translate(90.60 460.88) scale(1.05 1.15)" text-anchor="end">0.4</text>
<text transform="translate(555.80 770.50) scale(1.05 1.12)" text-anchor="middle">0.5</text>
<text transform="translate(90.60 389.45) scale(1.05 1.15)" text-anchor="end">0.5</text>
<text transform="translate(646.60 770.50) scale(1.05 1.12)" text-anchor="middle">0.6</text>
<text transform="translate(90.60 315.92) scale(1.05 1.15)" text-anchor="end">0.6</text>
<text transform="translate(737.20 770.50) scale(1.05 1.12)" text-anchor="middle">0.7</text>
<text transform="translate(90.60 244.49) scale(1.05 1.15)" text-anchor="end">0.7</text>
<text transform="translate(830.15 770.50) scale(1.05 1.12)" text-anchor="middle">0.8</text>
<text transform="translate(90.60 173.06) scale(1.05 1.15)" text-anchor="end">0.8</text>
<text transform="translate(922.20 770.50) scale(1.05 1.12)" text-anchor="middle">0.9</text>
<text transform="translate(90.60 101.63) scale(1.05 1.15)" text-anchor="end">0.9</text>
<text transform="translate(1013.70 770.50) scale(1.05 1.12)" text-anchor="middle">1</text>
<text transform="translate(90.60 30.20) scale(1.05 1.15)" text-anchor="end">1</text>
<text transform="translate(554.00 806.30) scale(1.018 1.1)" text-anchor="middle">false positive</text>
<text transform="translate(29.60 379.60) rotate(-90) scale(1.018 1.1)" text-anchor="middle" letter-spacing="0.3">true positive</text>
<text transform="translate(232.00 74.20) scale(1.018 1.1)" text-anchor="start">conventional mean ADC</text>
<text transform="translate(232.00 113.50) scale(1.018 1.1)" text-anchor="start">adaBoost</text>
<text transform="translate(232.00 151.80) scale(1.018 1.1)" text-anchor="start">RF</text>
<text transform="translate(232.00 191.00) scale(1.018 1.1)" text-anchor="start">SVM</text>
</g>
</svg></body></html>
